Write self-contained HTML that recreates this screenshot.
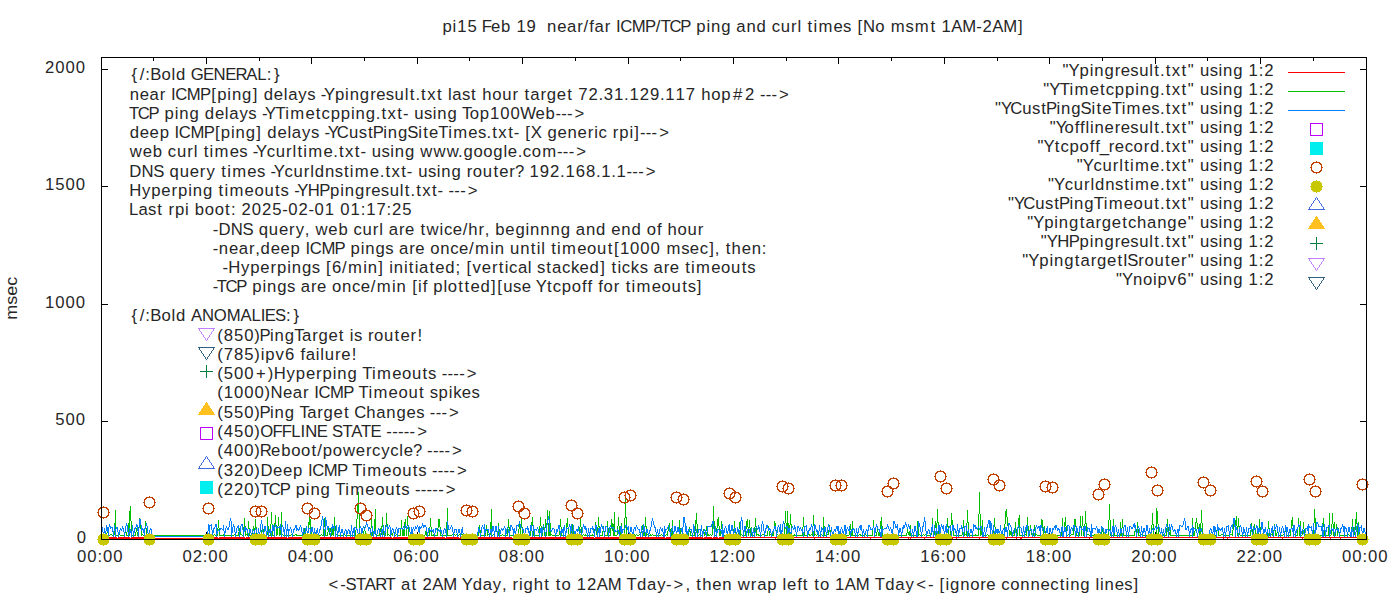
<!DOCTYPE html>
<html><head><meta charset="utf-8"><title>pi15 ping chart</title>
<style>
html,body{margin:0;padding:0;background:#fff;width:1400px;height:600px;overflow:hidden;}
svg{display:block;}
text{font-family:"Liberation Sans", sans-serif;font-size:16.7px;fill:#262626;white-space:pre;}
path,rect{shape-rendering:crispEdges;}
</style></head><body>
<svg width="1400" height="600" viewBox="0 0 1400 600">
<rect width="1400" height="600" fill="#fff"/>
<text transform="scale(1.0,1)" x="442.47 452.59 457.16 467.41 477.42 481.82 490.98 501.04 511.02 516.38 526.62 536.63 541.75 547.09 557.14 567.01 577.13 583.60 589.28 594.58 604.70 611.02 615.96 620.24 631.87 645.05 655.87 660.71 669.38 680.31 690.98 696.32 706.45 711.00 721.21 731.20 736.36 746.40 756.61 766.59 771.72 780.78 791.05 797.51 801.85 807.56 813.43 818.40 833.51 843.12 851.73 857.43 862.88 875.21 885.02 890.78 905.60 914.85 930.48 936.21 941.56 951.27 962.33 976.36 982.52 992.22 1003.29 1018.01" y="32.00">pi15 Feb 19  near/far ICMP/TCP ping and curl times [No msmt 1AM-2AM]</text>
<text transform="scale(1.0,1)" x="76.83" y="543.00">0</text>
<text transform="scale(1.0,1)" x="55.24 65.49 75.73" y="425.00">500</text>
<text transform="scale(1.0,1)" x="45.00 55.24 65.49 75.73" y="308.00">1000</text>
<text transform="scale(1.0,1)" x="45.00 55.24 65.49 75.73" y="190.00">1500</text>
<text transform="scale(1.0,1)" x="45.00 55.24 65.49 75.73" y="73.00">2000</text>
<text transform="scale(1.0,1)" x="76.98 87.22 97.38 102.88 113.13" y="562.00">00:00</text>
<text transform="scale(1.0,1)" x="182.39 192.64 202.80 208.30 218.54" y="562.00">02:00</text>
<text transform="scale(1.0,1)" x="287.81 298.05 308.21 313.72 323.96" y="562.00">04:00</text>
<text transform="scale(1.0,1)" x="393.23 403.47 413.63 419.13 429.38" y="562.00">06:00</text>
<text transform="scale(1.0,1)" x="498.64 508.89 519.05 524.55 534.79" y="562.00">08:00</text>
<text transform="scale(1.0,1)" x="604.06 614.30 624.46 629.97 640.21" y="562.00">10:00</text>
<text transform="scale(1.0,1)" x="709.48 719.72 729.88 735.38 745.63" y="562.00">12:00</text>
<text transform="scale(1.0,1)" x="814.89 825.14 835.30 840.80 851.04" y="562.00">14:00</text>
<text transform="scale(1.0,1)" x="920.31 930.55 940.71 946.22 956.46" y="562.00">16:00</text>
<text transform="scale(1.0,1)" x="1025.73 1035.97 1046.13 1051.63 1061.88" y="562.00">18:00</text>
<text transform="scale(1.0,1)" x="1131.14 1141.39 1151.55 1157.05 1167.29" y="562.00">20:00</text>
<text transform="scale(1.0,1)" x="1236.56 1246.80 1256.96 1262.47 1272.71" y="562.00">22:00</text>
<text transform="scale(1.0,1)" x="1341.98 1352.22 1362.38 1367.88 1378.13" y="562.00">00:00</text>
<text transform="scale(1.0,1)" x="328.53 340.27 345.50 355.98 364.70 375.34 385.61 395.88 401.04 411.46 417.18 422.53 432.24 443.30 457.45 461.67 472.63 482.66 492.83 502.00 507.13 512.54 519.00 523.56 533.77 544.34 550.06 555.78 561.54 571.35 576.71 586.95 596.65 607.72 621.86 626.56 637.04 647.07 657.24 666.02 673.57 685.42 690.55 696.26 702.20 712.25 722.30 732.28 737.70 750.86 757.22 767.27 777.26 782.52 786.92 797.17 802.74 808.46 814.17 819.94 829.75 835.10 844.81 855.87 870.02 874.71 885.20 895.22 905.40 916.20 927.94 933.87 939.56 945.41 949.97 960.18 970.20 980.30 986.34 996.18 1001.31 1010.18 1020.21 1030.41 1040.45 1050.29 1059.72 1065.59 1070.14 1080.34 1090.33 1095.59 1100.07 1104.62 1114.67 1124.28 1133.47" y="590.00">&lt;-START at 2AM Yday, right to 12AM Tday-&gt;, then wrap left to 1AM Tday&lt;- [ignore connecting lines]</text>
<text transform="translate(17.3,319.71) rotate(-90)" x="0" y="0" textLength="42.81" lengthAdjust="spacingAndGlyphs">msec</text>
<text transform="scale(1.0,1)" x="131.53 139.83 145.25 150.23 161.61 171.56 176.12 186.11 190.73 202.98 213.62 225.18 235.39 246.30 257.22 266.75 274.10" y="80.00">{/:Bold GENERAL:}</text>
<text transform="scale(1.0,1)" x="129.66 139.70 149.57 159.69 166.02 170.95 175.23 186.86 200.04 211.29 217.22 227.35 231.90 242.11 252.67 258.38 263.73 273.78 283.75 288.13 298.30 307.25 315.87 320.87 324.01 334.96 345.09 349.64 359.85 370.13 376.17 385.78 394.61 404.73 409.66 415.38 421.09 427.16 436.93 442.65 447.92 452.29 461.90 471.10 476.83 482.16 492.18 502.21 512.48 518.80 524.52 530.28 540.40 546.67 556.72 567.14 572.87 578.22 588.46 598.47 603.83 614.07 624.08 629.44 639.68 649.93 659.93 665.29 675.53 685.78 695.79 701.13 711.15 721.18 733.03 744.88 754.89 759.90 765.71 771.52 779.08" y="100.00">near ICMP[ping] delays -Ypingresult.txt last hour target 72.31.129.117 hop#2 ---&gt;</text>
<text transform="scale(1.0,1)" x="129.01 137.68 148.61 159.28 164.62 174.75 179.30 189.51 199.50 204.84 214.89 224.87 229.24 239.42 248.37 256.98 261.99 265.12 275.42 285.34 290.32 305.42 315.85 321.58 330.64 340.85 350.98 355.53 365.74 375.72 381.44 387.51 397.27 402.88 408.81 414.15 423.91 432.66 437.21 447.42 457.41 462.10 469.67 479.71 489.93 500.17 510.41 520.26 535.46 545.52 555.39 561.20 567.01 574.57" y="119.00">TCP ping delays -YTimetcpping.txt- using Top100Web---&gt;</text>
<text transform="scale(1.0,1)" x="129.67 139.72 149.61 159.67 169.66 174.59 178.87 190.51 203.69 214.93 220.87 231.00 235.55 245.75 256.32 262.03 267.37 277.42 287.40 291.77 301.95 310.90 319.51 324.52 327.65 336.85 348.95 358.71 367.91 372.68 383.14 387.69 397.90 407.18 418.24 423.17 428.95 438.36 448.28 453.25 468.36 477.97 486.58 492.29 498.37 508.13 513.74 519.67 525.37 530.78 542.10 547.45 557.50 567.55 577.60 587.72 594.19 598.53 607.37 612.78 619.33 629.46 634.37 639.96 645.77 651.59 659.14" y="138.00">deep ICMP[ping] delays -YCustPingSiteTimes.txt- [X generic rpi]---&gt;</text>
<text transform="scale(1.0,1)" x="129.74 142.67 152.73 162.72 167.85 176.90 187.17 193.64 197.97 203.68 209.55 214.53 229.63 239.24 247.85 252.86 255.99 266.73 275.78 286.06 292.52 297.45 303.31 308.29 323.39 333.22 338.94 345.01 354.78 360.38 366.31 371.65 381.41 390.16 394.72 404.92 414.91 420.33 433.50 446.66 458.05 463.40 473.42 483.27 493.31 503.44 507.84 517.67 522.80 531.68 542.13 557.05 562.87 568.68 576.23" y="157.00">web curl times -Ycurltime.txt- using www.google.com---&gt;</text>
<text transform="scale(1.0,1)" x="129.37 141.58 153.17 164.08 169.43 179.63 189.68 199.80 206.47 215.65 221.36 227.23 232.20 247.31 256.91 265.53 270.53 273.67 284.41 293.46 303.73 310.20 314.76 324.96 334.71 343.92 349.79 354.76 369.87 379.70 385.41 391.48 401.25 406.86 412.79 418.13 427.88 436.64 441.19 451.39 461.38 466.80 472.81 482.84 493.41 499.20 509.33 515.04 524.19 529.55 539.79 550.04 560.04 565.40 575.64 585.89 595.89 601.25 611.26 616.62 626.51 632.32 638.14 645.69" y="177.00">DNS query times -Ycurldnstime.txt- using router? 192.168.1.1---&gt;</text>
<text transform="scale(1.0,1)" x="129.22 141.88 151.28 161.33 171.46 178.01 188.14 192.69 202.89 212.88 218.59 224.46 229.44 244.54 254.41 264.44 275.01 280.51 289.13 294.13 297.27 307.78 319.13 330.03 340.16 344.71 354.91 365.19 371.23 380.84 389.67 399.79 404.72 410.44 416.16 422.23 432.00 437.60 443.53 448.54 454.35 460.16 467.72" y="196.00">Hyperping timeouts -YHPpingresult.txt- ---&gt;</text>
<text transform="scale(1.0,1)" x="129.04 138.45 148.05 157.26 162.98 168.40 174.94 185.07 189.41 194.76 204.78 214.63 225.04 230.91 236.18 241.54 251.78 262.02 272.27 282.16 288.32 298.57 308.46 314.62 324.87 334.88 340.23 350.47 360.63 366.14 376.38 386.54 392.05 402.29" y="215.00">Last rpi boot: 2025-02-01 01:17:25</text>
<text transform="scale(1.0,1)" x="212.72 218.58 230.80 242.38 253.30 258.64 268.85 278.89 289.02 295.69 304.86 309.98 315.41 328.33 338.39 348.38 353.51 362.56 372.84 379.30 383.63 388.80 398.92 404.95 414.79 420.50 426.53 439.53 443.88 452.78 462.76 468.25 478.52 484.84 489.97 495.31 505.36 515.42 525.55 530.10 540.30 550.50 560.70 570.69 575.85 585.89 596.10 606.09 611.27 621.32 631.53 641.51 646.68 656.90 662.16 667.50 677.52 687.54 697.82" y="235.00">-DNS query, web curl are twice/hr, beginnng and end of hour</text>
<text transform="scale(1.0,1)" x="212.72 218.87 228.91 238.79 248.91 255.22 260.58 270.63 280.52 290.58 300.57 305.50 309.78 321.42 334.60 345.27 350.61 360.74 365.30 375.50 385.26 393.88 399.04 409.16 415.20 425.03 430.19 440.22 450.21 459.11 469.09 475.00 490.19 494.74 504.72 510.06 520.25 530.82 536.69 541.17 545.50 551.22 557.08 562.06 577.16 587.04 597.06 607.64 613.93 619.88 630.12 640.36 650.61 660.62 666.38 681.19 689.87 699.72 709.13 714.83 719.96 725.67 731.61 741.66 751.71 761.84" y="254.00">-near,deep ICMP pings are once/min until timeout[1000 msec], then:</text>
<text transform="scale(1.0,1)" x="222.52 228.23 240.90 250.30 260.35 270.47 277.02 287.15 291.70 301.91 311.67 320.28 325.98 331.92 342.08 347.99 363.18 367.73 378.28 383.99 389.26 393.81 403.93 408.86 414.72 419.10 429.52 435.30 445.36 455.50 460.77 466.47 472.52 481.76 491.89 498.80 504.67 509.01 517.89 527.86 532.19 537.09 546.30 552.06 561.90 570.96 579.55 589.61 600.17 605.88 611.59 617.46 621.80 630.86 639.73 648.34 653.51 663.63 669.66 679.50 685.21 691.08 696.05 711.16 721.03 731.06 741.63 747.13" y="273.00">-Hyperpings [6/min] initiated; [vertical stacked] ticks are timeouts</text>
<text transform="scale(1.0,1)" x="212.72 216.75 225.41 236.34 247.01 252.36 262.49 267.04 277.24 287.01 295.62 300.78 310.90 316.94 326.78 331.94 341.97 351.95 360.85 370.84 376.75 391.93 396.48 406.46 412.16 418.01 422.76 428.02 433.36 443.49 447.87 458.27 464.59 470.38 480.43 491.00 497.28 503.21 512.96 521.64 531.47 535.70 547.02 552.76 561.82 571.84 582.07 587.49 592.75 598.28 603.58 613.68 620.01 625.72 631.58 636.56 651.66 661.54 671.57 682.14 687.64 696.83" y="292.00">-TCP pings are once/min [if plotted][use Ytcpoff for timeouts]</text>
<text transform="scale(1.0,1)" x="131.53 139.83 145.25 150.23 161.61 171.56 176.12 186.11 190.92 201.99 213.87 226.69 240.52 251.44 260.63 264.83 275.02 286.09 293.44" y="321.00">{/:Bold ANOMALIES:}</text>
<text transform="scale(1.0,1)" x="217.36 223.76 234.00 244.24 254.37 259.58 270.05 274.60 284.80 294.36 302.01 312.13 318.39 328.44 338.87 344.59 349.86 353.97 362.58 368.00 374.01 384.04 394.61 400.40 410.53 417.51" y="341.00">(850)PingTarget is router!</text>
<text transform="scale(1.0,1)" x="217.36 223.76 234.00 244.24 254.37 260.68 265.24 275.58 284.98 294.99 300.53 305.83 315.80 320.27 324.83 335.10 341.14 351.64" y="360.00">(785)ipv6 failure!</text>
<text transform="scale(1.0,1)" x="217.36 223.76 234.00 244.24 255.88 267.85 273.80 286.46 295.86 305.91 316.04 322.59 332.72 337.27 347.47 357.46 362.15 372.07 377.05 392.15 402.03 412.05 422.62 428.12 436.74 441.74 447.56 453.37 459.18 466.74" y="379.00">(500+)Hyperping Timeouts ----&gt;</text>
<text transform="scale(1.0,1)" x="217.36 223.76 234.00 244.24 254.49 264.62 270.53 282.88 292.76 302.88 309.20 314.13 318.41 330.04 343.23 353.89 358.59 368.51 373.48 388.59 398.46 408.49 419.06 424.78 429.68 438.52 448.65 453.21 461.80 471.41" y="398.00">(1000)Near ICMP Timeout spikes</text>
<text transform="scale(1.0,1)" x="217.36 223.76 234.00 244.24 254.37 259.58 270.05 274.60 284.80 294.79 299.48 307.13 317.25 323.51 333.57 343.99 349.72 354.18 366.29 376.31 386.35 396.55 406.61 416.21 424.83 429.83 435.65 441.46 449.01" y="418.00">(550)Ping Target Changes ---&gt;</text>
<text transform="scale(1.0,1)" x="217.36 223.76 234.00 244.24 254.37 260.13 272.49 281.74 291.31 300.49 305.17 316.73 327.63 332.05 342.53 351.25 360.90 370.43 381.33 386.33 392.14 397.96 403.77 409.58 417.14" y="437.00">(450)OFFLINE STATE -----&gt;</text>
<text transform="scale(1.0,1)" x="217.36 223.76 234.00 244.24 254.37 259.86 271.07 281.13 291.15 301.00 311.41 317.28 322.78 332.80 342.92 355.84 365.97 371.95 381.14 390.32 399.30 403.70 412.92 422.08 427.08 432.90 438.71 444.52 452.08" y="456.00">(400)Reboot/powercycle? ----&gt;</text>
<text transform="scale(1.0,1)" x="217.36 223.76 234.00 244.24 254.37 260.46 273.00 282.90 292.96 302.94 307.88 312.16 323.79 336.97 347.64 352.34 362.25 367.23 382.33 392.21 402.23 412.80 418.30 426.92 431.92 437.74 443.55 449.36 456.92" y="475.50">(320)Deep ICMP Timeouts ----&gt;</text>
<text transform="scale(1.0,1)" x="217.36 223.76 234.00 244.24 254.37 260.11 268.78 279.71 290.37 295.72 305.85 310.40 320.61 330.59 335.29 345.21 350.18 365.29 375.16 385.19 395.76 401.26 409.87 414.88 420.69 426.50 432.32 438.13 445.68" y="495.00">(220)TCP ping Timeouts -----&gt;</text>
<text transform="scale(1.0,1)" x="1062.56 1068.57 1079.52 1089.65 1094.21 1104.41 1114.69 1120.73 1130.34 1139.17 1149.29 1154.22 1159.94 1165.66 1171.73 1181.49 1187.71 1194.62 1199.96 1209.71 1218.47 1223.02 1233.22 1243.21 1248.57 1258.73 1264.23" y="76.00">&quot;Ypingresult.txt&quot; using 1:2</text>
<text transform="scale(1.0,1)" x="1043.33 1049.34 1059.64 1069.56 1074.53 1089.64 1100.06 1105.80 1114.86 1125.07 1135.20 1139.75 1149.96 1159.94 1165.66 1171.73 1181.49 1187.71 1194.62 1199.96 1209.71 1218.47 1223.02 1233.22 1243.21 1248.57 1258.73 1264.23" y="95.00">&quot;YTimetcpping.txt&quot; using 1:2</text>
<text transform="scale(1.0,1)" x="995.00 1001.01 1010.21 1022.31 1032.07 1041.27 1046.04 1056.50 1061.06 1071.26 1080.55 1091.60 1096.53 1102.32 1111.72 1121.64 1126.62 1141.72 1151.33 1159.94 1165.66 1171.73 1181.49 1187.71 1194.62 1199.96 1209.71 1218.47 1223.02 1233.22 1243.21 1248.57 1258.73 1264.23" y="114.00">&quot;YCustPingSiteTimes.txt&quot; using 1:2</text>
<text transform="scale(1.0,1)" x="1049.82 1055.83 1064.46 1074.69 1080.11 1085.49 1089.97 1094.52 1104.56 1114.69 1120.73 1130.34 1139.17 1149.29 1154.22 1159.94 1165.66 1171.73 1181.49 1187.71 1194.62 1199.96 1209.71 1218.47 1223.02 1233.22 1243.21 1248.57 1258.73 1264.23" y="133.00">&quot;Yofflineresult.txt&quot; using 1:2</text>
<text transform="scale(1.0,1)" x="1037.44 1043.45 1054.77 1060.50 1069.56 1079.59 1089.82 1095.24 1099.67 1108.83 1114.87 1124.71 1133.59 1143.69 1149.96 1159.94 1165.66 1171.73 1181.49 1187.71 1194.62 1199.96 1209.71 1218.47 1223.02 1233.22 1243.21 1248.57 1258.73 1264.23" y="152.00">&quot;Ytcpoff_record.txt&quot; using 1:2</text>
<text transform="scale(1.0,1)" x="1076.70 1082.71 1093.45 1102.50 1112.77 1119.24 1124.16 1130.03 1135.00 1150.11 1159.94 1165.66 1171.73 1181.49 1187.71 1194.62 1199.96 1209.71 1218.47 1223.02 1233.22 1243.21 1248.57 1258.73 1264.23" y="171.00">&quot;Ycurltime.txt&quot; using 1:2</text>
<text transform="scale(1.0,1)" x="1047.90 1053.91 1064.65 1073.70 1083.98 1090.44 1095.00 1105.20 1114.96 1124.16 1130.03 1135.00 1150.11 1159.94 1165.66 1171.73 1181.49 1187.71 1194.62 1199.96 1209.71 1218.47 1223.02 1233.22 1243.21 1248.57 1258.73 1264.23" y="190.00">&quot;Ycurldnstime.txt&quot; using 1:2</text>
<text transform="scale(1.0,1)" x="1007.93 1013.94 1023.14 1035.24 1045.00 1054.20 1058.97 1069.43 1073.99 1084.19 1093.75 1103.67 1108.64 1123.75 1133.62 1143.65 1154.22 1159.94 1165.66 1171.73 1181.49 1187.71 1194.62 1199.96 1209.71 1218.47 1223.02 1233.22 1243.21 1248.57 1258.73 1264.23" y="209.00">&quot;YCustPingTimeout.txt&quot; using 1:2</text>
<text transform="scale(1.0,1)" x="1027.23 1033.24 1044.19 1054.32 1058.87 1069.08 1079.65 1085.42 1095.54 1101.80 1111.85 1122.28 1128.01 1137.07 1147.08 1157.13 1167.33 1177.38 1187.71 1194.62 1199.96 1209.71 1218.47 1223.02 1233.22 1243.21 1248.57 1258.73 1264.23" y="228.00">&quot;Ypingtargetchange&quot; using 1:2</text>
<text transform="scale(1.0,1)" x="1040.75 1046.76 1057.27 1068.63 1079.52 1089.65 1094.21 1104.41 1114.69 1120.73 1130.34 1139.17 1149.29 1154.22 1159.94 1165.66 1171.73 1181.49 1187.71 1194.62 1199.96 1209.71 1218.47 1223.02 1233.22 1243.21 1248.57 1258.73 1264.23" y="247.00">&quot;YHPpingresult.txt&quot; using 1:2</text>
<text transform="scale(1.0,1)" x="1022.34 1028.35 1039.30 1049.43 1053.99 1064.19 1074.77 1080.53 1090.65 1096.92 1106.97 1117.39 1122.93 1127.16 1138.37 1144.38 1154.41 1164.98 1170.77 1180.90 1187.71 1194.62 1199.96 1209.71 1218.47 1223.02 1233.22 1243.21 1248.57 1258.73 1264.23" y="266.00">&quot;YpingtargetISrouter&quot; using 1:2</text>
<text transform="scale(1.0,1)" x="1115.98 1121.99 1132.93 1142.95 1152.91 1157.47 1167.80 1177.21 1187.71 1194.62 1199.96 1209.71 1218.47 1223.02 1233.22 1243.21 1248.57 1258.73 1264.23" y="285.00">&quot;Ynoipv6&quot; using 1:2</text>
<rect x="1288" y="72" width="57" height="1" fill="#ff0000"/>
<rect x="1288" y="91" width="57" height="1" fill="#00c000"/>
<rect x="1288" y="110" width="57" height="1" fill="#0080ff"/>
<path d="M1310 123h1v13h-1zM1311 123h1v1h-1zM1311 135h1v1h-1zM1312 123h1v1h-1zM1312 135h1v1h-1zM1313 123h1v1h-1zM1313 135h1v1h-1zM1314 123h1v1h-1zM1314 135h1v1h-1zM1315 123h1v1h-1zM1315 135h1v1h-1zM1316 123h1v1h-1zM1316 135h1v1h-1zM1317 123h1v1h-1zM1317 135h1v1h-1zM1318 123h1v1h-1zM1318 135h1v1h-1zM1319 123h1v1h-1zM1319 135h1v1h-1zM1320 123h1v1h-1zM1320 135h1v1h-1zM1321 123h1v1h-1zM1321 135h1v1h-1zM1322 123h1v13h-1z" fill="#c000ff"/>
<path d="M1310 142h1v13h-1zM1311 142h1v13h-1zM1312 142h1v13h-1zM1313 142h1v13h-1zM1314 142h1v13h-1zM1315 142h1v13h-1zM1316 142h1v13h-1zM1317 142h1v13h-1zM1318 142h1v13h-1zM1319 142h1v13h-1zM1320 142h1v13h-1zM1321 142h1v13h-1zM1322 142h1v13h-1z" fill="#00eeee"/>
<path d="M1310 167h1v1h-1zM1311 164h1v7h-1zM1312 163h1v2h-1zM1312 170h1v2h-1zM1313 162h1v2h-1zM1313 171h1v2h-1zM1314 162h1v1h-1zM1314 172h1v1h-1zM1315 162h1v1h-1zM1315 172h1v1h-1zM1316 161h1v2h-1zM1316 172h1v2h-1zM1317 162h1v1h-1zM1317 172h1v1h-1zM1318 162h1v1h-1zM1318 172h1v1h-1zM1319 162h1v2h-1zM1319 171h1v2h-1zM1320 163h1v2h-1zM1320 170h1v2h-1zM1321 164h1v7h-1zM1322 167h1v1h-1z" fill="#c04000"/>
<path d="M1310 186h1v1h-1zM1311 183h1v7h-1zM1312 182h1v9h-1zM1313 181h1v11h-1zM1314 181h1v11h-1zM1315 181h1v11h-1zM1316 180h1v13h-1zM1317 181h1v11h-1zM1318 181h1v11h-1zM1319 181h1v11h-1zM1320 182h1v9h-1zM1321 183h1v7h-1zM1322 186h1v1h-1z" fill="#c8c800"/>
<path d="M1308 209h1v1h-1zM1309 207h1v3h-1zM1310 206h1v1h-1zM1310 209h1v1h-1zM1311 204h1v2h-1zM1311 209h1v1h-1zM1312 203h1v1h-1zM1312 209h1v1h-1zM1313 201h1v2h-1zM1313 209h1v1h-1zM1314 200h1v1h-1zM1314 209h1v1h-1zM1315 198h1v2h-1zM1315 209h1v1h-1zM1316 197h1v1h-1zM1316 209h1v1h-1zM1317 198h1v2h-1zM1317 209h1v1h-1zM1318 200h1v1h-1zM1318 209h1v1h-1zM1319 201h1v2h-1zM1319 209h1v1h-1zM1320 203h1v1h-1zM1320 209h1v1h-1zM1321 204h1v2h-1zM1321 209h1v1h-1zM1322 206h1v1h-1zM1322 209h1v1h-1zM1323 207h1v3h-1zM1324 209h1v1h-1z" fill="#4169e1"/>
<path d="M1308 228h1v1h-1zM1309 226h1v3h-1zM1310 225h1v4h-1zM1311 223h1v6h-1zM1312 222h1v7h-1zM1313 220h1v9h-1zM1314 219h1v10h-1zM1315 217h1v12h-1zM1316 216h1v13h-1zM1317 217h1v12h-1zM1318 219h1v10h-1zM1319 220h1v9h-1zM1320 222h1v7h-1zM1321 223h1v6h-1zM1322 225h1v4h-1zM1323 226h1v3h-1zM1324 228h1v1h-1z" fill="#ffc020"/>
<path d="M1310 243h1v1h-1zM1311 243h1v1h-1zM1312 243h1v1h-1zM1313 243h1v1h-1zM1314 243h1v1h-1zM1315 243h1v1h-1zM1316 237h1v13h-1zM1317 243h1v1h-1zM1318 243h1v1h-1zM1319 243h1v1h-1zM1320 243h1v1h-1zM1321 243h1v1h-1zM1322 243h1v1h-1z" fill="#008040"/>
<path d="M1308 258h1v1h-1zM1309 258h1v3h-1zM1310 258h1v1h-1zM1310 261h1v1h-1zM1311 258h1v1h-1zM1311 262h1v2h-1zM1312 258h1v1h-1zM1312 264h1v1h-1zM1313 258h1v1h-1zM1313 265h1v2h-1zM1314 258h1v1h-1zM1314 267h1v1h-1zM1315 258h1v1h-1zM1315 268h1v2h-1zM1316 258h1v1h-1zM1316 270h1v1h-1zM1317 258h1v1h-1zM1317 268h1v2h-1zM1318 258h1v1h-1zM1318 267h1v1h-1zM1319 258h1v1h-1zM1319 265h1v2h-1zM1320 258h1v1h-1zM1320 264h1v1h-1zM1321 258h1v1h-1zM1321 262h1v2h-1zM1322 258h1v1h-1zM1322 261h1v1h-1zM1323 258h1v3h-1zM1324 258h1v1h-1z" fill="#c080ff"/>
<path d="M1308 277h1v1h-1zM1309 277h1v3h-1zM1310 277h1v1h-1zM1310 280h1v1h-1zM1311 277h1v1h-1zM1311 281h1v2h-1zM1312 277h1v1h-1zM1312 283h1v1h-1zM1313 277h1v1h-1zM1313 284h1v2h-1zM1314 277h1v1h-1zM1314 286h1v1h-1zM1315 277h1v1h-1zM1315 287h1v2h-1zM1316 277h1v1h-1zM1316 289h1v1h-1zM1317 277h1v1h-1zM1317 287h1v2h-1zM1318 277h1v1h-1zM1318 286h1v1h-1zM1319 277h1v1h-1zM1319 284h1v2h-1zM1320 277h1v1h-1zM1320 283h1v1h-1zM1321 277h1v1h-1zM1321 281h1v2h-1zM1322 277h1v1h-1zM1322 280h1v1h-1zM1323 277h1v3h-1zM1324 277h1v1h-1z" fill="#306080"/>
<path d="M198 328h1v1h-1zM199 328h1v3h-1zM200 328h1v1h-1zM200 331h1v1h-1zM201 328h1v1h-1zM201 332h1v2h-1zM202 328h1v1h-1zM202 334h1v1h-1zM203 328h1v1h-1zM203 335h1v2h-1zM204 328h1v1h-1zM204 337h1v1h-1zM205 328h1v1h-1zM205 338h1v2h-1zM206 328h1v1h-1zM206 340h1v1h-1zM207 328h1v1h-1zM207 338h1v2h-1zM208 328h1v1h-1zM208 337h1v1h-1zM209 328h1v1h-1zM209 335h1v2h-1zM210 328h1v1h-1zM210 334h1v1h-1zM211 328h1v1h-1zM211 332h1v2h-1zM212 328h1v1h-1zM212 331h1v1h-1zM213 328h1v3h-1zM214 328h1v1h-1z" fill="#c080ff"/>
<path d="M198 347h1v1h-1zM199 347h1v3h-1zM200 347h1v1h-1zM200 350h1v1h-1zM201 347h1v1h-1zM201 351h1v2h-1zM202 347h1v1h-1zM202 353h1v1h-1zM203 347h1v1h-1zM203 354h1v2h-1zM204 347h1v1h-1zM204 356h1v1h-1zM205 347h1v1h-1zM205 357h1v2h-1zM206 347h1v1h-1zM206 359h1v1h-1zM207 347h1v1h-1zM207 357h1v2h-1zM208 347h1v1h-1zM208 356h1v1h-1zM209 347h1v1h-1zM209 354h1v2h-1zM210 347h1v1h-1zM210 353h1v1h-1zM211 347h1v1h-1zM211 351h1v2h-1zM212 347h1v1h-1zM212 350h1v1h-1zM213 347h1v3h-1zM214 347h1v1h-1z" fill="#306080"/>
<path d="M200 371h1v1h-1zM201 371h1v1h-1zM202 371h1v1h-1zM203 371h1v1h-1zM204 371h1v1h-1zM205 371h1v1h-1zM206 365h1v13h-1zM207 371h1v1h-1zM208 371h1v1h-1zM209 371h1v1h-1zM210 371h1v1h-1zM211 371h1v1h-1zM212 371h1v1h-1z" fill="#008040"/>
<path d="M198 414h1v1h-1zM199 412h1v3h-1zM200 411h1v4h-1zM201 409h1v6h-1zM202 408h1v7h-1zM203 406h1v9h-1zM204 405h1v10h-1zM205 403h1v12h-1zM206 402h1v13h-1zM207 403h1v12h-1zM208 405h1v10h-1zM209 406h1v9h-1zM210 408h1v7h-1zM211 409h1v6h-1zM212 411h1v4h-1zM213 412h1v3h-1zM214 414h1v1h-1z" fill="#ffc020"/>
<path d="M200 427h1v13h-1zM201 427h1v1h-1zM201 439h1v1h-1zM202 427h1v1h-1zM202 439h1v1h-1zM203 427h1v1h-1zM203 439h1v1h-1zM204 427h1v1h-1zM204 439h1v1h-1zM205 427h1v1h-1zM205 439h1v1h-1zM206 427h1v1h-1zM206 439h1v1h-1zM207 427h1v1h-1zM207 439h1v1h-1zM208 427h1v1h-1zM208 439h1v1h-1zM209 427h1v1h-1zM209 439h1v1h-1zM210 427h1v1h-1zM210 439h1v1h-1zM211 427h1v1h-1zM211 439h1v1h-1zM212 427h1v13h-1z" fill="#c000ff"/>
<path d="M198 468h1v1h-1zM199 466h1v3h-1zM200 465h1v1h-1zM200 468h1v1h-1zM201 463h1v2h-1zM201 468h1v1h-1zM202 462h1v1h-1zM202 468h1v1h-1zM203 460h1v2h-1zM203 468h1v1h-1zM204 459h1v1h-1zM204 468h1v1h-1zM205 457h1v2h-1zM205 468h1v1h-1zM206 456h1v1h-1zM206 468h1v1h-1zM207 457h1v2h-1zM207 468h1v1h-1zM208 459h1v1h-1zM208 468h1v1h-1zM209 460h1v2h-1zM209 468h1v1h-1zM210 462h1v1h-1zM210 468h1v1h-1zM211 463h1v2h-1zM211 468h1v1h-1zM212 465h1v1h-1zM212 468h1v1h-1zM213 466h1v3h-1zM214 468h1v1h-1z" fill="#4169e1"/>
<path d="M200 481h1v13h-1zM201 481h1v13h-1zM202 481h1v13h-1zM203 481h1v13h-1zM204 481h1v13h-1zM205 481h1v13h-1zM206 481h1v13h-1zM207 481h1v13h-1zM208 481h1v13h-1zM209 481h1v13h-1zM210 481h1v13h-1zM211 481h1v13h-1zM212 481h1v13h-1z" fill="#00eeee"/>
<path d="M101 532h1v7h-1zM153 535h1v4h-1zM206 532h1v7h-1zM259 535h1v4h-1zM311 532h1v7h-1zM364 535h1v4h-1zM417 532h1v7h-1zM469 535h1v4h-1zM522 532h1v7h-1zM575 535h1v4h-1zM628 532h1v7h-1zM680 535h1v4h-1zM733 532h1v7h-1zM786 535h1v4h-1zM838 532h1v7h-1zM891 535h1v4h-1zM944 532h1v7h-1zM997 535h1v4h-1zM1049 532h1v7h-1zM1102 535h1v4h-1zM1155 532h1v7h-1zM1207 535h1v4h-1zM1260 532h1v7h-1zM1313 535h1v4h-1zM1366 532h1v7h-1z" fill="#000"/>
<path d="M101 537h1v2h-1zM102 537h1v2h-1zM103 537h1v2h-1zM104 537h1v2h-1zM105 537h1v2h-1zM106 537h1v2h-1zM107 537h1v2h-1zM108 537h1v2h-1zM109 537h1v2h-1zM110 537h1v2h-1zM111 537h1v2h-1zM112 537h1v2h-1zM113 537h1v2h-1zM114 537h1v2h-1zM115 537h1v2h-1zM116 537h1v2h-1zM117 538h1v1h-1zM118 537h1v2h-1zM119 537h1v2h-1zM120 537h1v2h-1zM121 537h1v2h-1zM122 537h1v2h-1zM123 537h1v2h-1zM124 537h1v2h-1zM125 537h1v2h-1zM126 537h1v2h-1zM127 537h1v2h-1zM128 537h1v2h-1zM129 537h1v2h-1zM130 538h1v1h-1zM131 537h1v2h-1zM132 537h1v2h-1zM133 537h1v2h-1zM134 537h1v2h-1zM135 537h1v2h-1zM136 537h1v2h-1zM137 537h1v2h-1zM138 537h1v2h-1zM139 537h1v2h-1zM140 537h1v2h-1zM141 537h1v2h-1zM142 537h1v2h-1zM143 537h1v2h-1zM144 537h1v2h-1zM145 537h1v2h-1zM146 537h1v2h-1zM147 537h1v2h-1zM148 537h1v2h-1zM149 538h1v1h-1zM150 537h1v2h-1zM151 538h1v1h-1zM152 538h1v1h-1zM153 538h1v1h-1zM154 538h1v1h-1zM155 538h1v1h-1zM156 538h1v1h-1zM157 538h1v1h-1zM158 538h1v1h-1zM159 538h1v1h-1zM160 538h1v1h-1zM161 538h1v1h-1zM162 538h1v1h-1zM163 538h1v1h-1zM164 538h1v1h-1zM165 538h1v1h-1zM166 538h1v1h-1zM167 538h1v1h-1zM168 538h1v1h-1zM169 538h1v1h-1zM170 538h1v1h-1zM171 538h1v1h-1zM172 538h1v1h-1zM173 538h1v1h-1zM174 538h1v1h-1zM175 538h1v1h-1zM176 538h1v1h-1zM177 538h1v1h-1zM178 538h1v1h-1zM179 538h1v1h-1zM180 538h1v1h-1zM181 538h1v1h-1zM182 538h1v1h-1zM183 538h1v1h-1zM184 538h1v1h-1zM185 538h1v1h-1zM186 538h1v1h-1zM187 538h1v1h-1zM188 538h1v1h-1zM189 538h1v1h-1zM190 538h1v1h-1zM191 538h1v1h-1zM192 538h1v1h-1zM193 538h1v1h-1zM194 538h1v1h-1zM195 538h1v1h-1zM196 538h1v1h-1zM197 538h1v1h-1zM198 538h1v1h-1zM199 538h1v1h-1zM200 538h1v1h-1zM201 538h1v1h-1zM202 538h1v1h-1zM203 538h1v1h-1zM204 538h1v1h-1zM205 538h1v1h-1zM206 538h1v1h-1zM207 537h1v2h-1zM208 537h1v2h-1zM209 537h1v2h-1zM210 537h1v2h-1zM211 537h1v2h-1zM212 537h1v2h-1zM213 537h1v2h-1zM214 537h1v2h-1zM215 537h1v2h-1zM216 537h1v2h-1zM217 537h1v2h-1zM218 538h1v1h-1zM219 537h1v2h-1zM220 537h1v2h-1zM221 537h1v2h-1zM222 537h1v2h-1zM223 537h1v2h-1zM224 537h1v2h-1zM225 537h1v2h-1zM226 537h1v2h-1zM227 537h1v2h-1zM228 537h1v2h-1zM229 537h1v2h-1zM230 537h1v2h-1zM231 537h1v2h-1zM232 537h1v2h-1zM233 537h1v2h-1zM234 537h1v2h-1zM235 537h1v2h-1zM236 537h1v2h-1zM237 537h1v2h-1zM238 537h1v2h-1zM239 537h1v2h-1zM240 537h1v2h-1zM241 537h1v2h-1zM242 537h1v2h-1zM243 537h1v2h-1zM244 537h1v2h-1zM245 538h1v1h-1zM246 537h1v2h-1zM247 537h1v2h-1zM248 537h1v2h-1zM249 537h1v2h-1zM250 537h1v2h-1zM251 537h1v2h-1zM252 537h1v2h-1zM253 537h1v2h-1zM254 537h1v2h-1zM255 537h1v2h-1zM256 538h1v1h-1zM257 537h1v2h-1zM258 537h1v2h-1zM259 537h1v2h-1zM260 538h1v1h-1zM261 537h1v2h-1zM262 537h1v2h-1zM263 537h1v2h-1zM264 537h1v2h-1zM265 537h1v2h-1zM266 537h1v2h-1zM267 537h1v2h-1zM268 537h1v2h-1zM269 537h1v2h-1zM270 537h1v2h-1zM271 537h1v2h-1zM272 537h1v2h-1zM273 537h1v2h-1zM274 537h1v2h-1zM275 537h1v2h-1zM276 537h1v2h-1zM277 537h1v2h-1zM278 537h1v2h-1zM279 537h1v2h-1zM280 537h1v2h-1zM281 537h1v2h-1zM282 537h1v2h-1zM283 537h1v2h-1zM284 537h1v2h-1zM285 537h1v2h-1zM286 537h1v2h-1zM287 538h1v1h-1zM288 537h1v2h-1zM289 537h1v2h-1zM290 537h1v2h-1zM291 537h1v2h-1zM292 537h1v2h-1zM293 537h1v2h-1zM294 537h1v2h-1zM295 537h1v2h-1zM296 537h1v2h-1zM297 537h1v2h-1zM298 537h1v2h-1zM299 537h1v2h-1zM300 537h1v2h-1zM301 537h1v2h-1zM302 537h1v2h-1zM303 538h1v1h-1zM304 537h1v2h-1zM305 537h1v2h-1zM306 537h1v2h-1zM307 537h1v2h-1zM308 537h1v2h-1zM309 537h1v2h-1zM310 537h1v2h-1zM311 537h1v2h-1zM312 537h1v2h-1zM313 537h1v2h-1zM314 538h1v1h-1zM315 537h1v2h-1zM316 538h1v1h-1zM317 538h1v1h-1zM318 537h1v2h-1zM319 537h1v2h-1zM320 537h1v2h-1zM321 537h1v2h-1zM322 537h1v2h-1zM323 537h1v2h-1zM324 537h1v2h-1zM325 537h1v2h-1zM326 537h1v2h-1zM327 537h1v2h-1zM328 537h1v2h-1zM329 537h1v2h-1zM330 537h1v2h-1zM331 537h1v2h-1zM332 537h1v2h-1zM333 537h1v2h-1zM334 537h1v2h-1zM335 537h1v2h-1zM336 537h1v2h-1zM337 537h1v2h-1zM338 537h1v2h-1zM339 537h1v2h-1zM340 537h1v2h-1zM341 537h1v2h-1zM342 537h1v2h-1zM343 537h1v2h-1zM344 537h1v2h-1zM345 537h1v2h-1zM346 537h1v2h-1zM347 537h1v2h-1zM348 537h1v2h-1zM349 537h1v2h-1zM350 537h1v2h-1zM351 537h1v2h-1zM352 537h1v2h-1zM353 537h1v2h-1zM354 537h1v2h-1zM355 537h1v2h-1zM356 538h1v1h-1zM357 537h1v2h-1zM358 537h1v2h-1zM359 537h1v2h-1zM360 538h1v1h-1zM361 537h1v2h-1zM362 537h1v2h-1zM363 537h1v2h-1zM364 537h1v2h-1zM365 537h1v2h-1zM366 537h1v2h-1zM367 537h1v2h-1zM368 537h1v2h-1zM369 538h1v1h-1zM370 537h1v2h-1zM371 537h1v2h-1zM372 537h1v2h-1zM373 537h1v2h-1zM374 537h1v2h-1zM375 537h1v2h-1zM376 537h1v2h-1zM377 537h1v2h-1zM378 537h1v2h-1zM379 537h1v2h-1zM380 537h1v2h-1zM381 537h1v2h-1zM382 537h1v2h-1zM383 537h1v2h-1zM384 537h1v2h-1zM385 537h1v2h-1zM386 537h1v2h-1zM387 537h1v2h-1zM388 537h1v2h-1zM389 537h1v2h-1zM390 537h1v2h-1zM391 537h1v2h-1zM392 538h1v1h-1zM393 537h1v2h-1zM394 537h1v2h-1zM395 537h1v2h-1zM396 537h1v2h-1zM397 537h1v2h-1zM398 537h1v2h-1zM399 537h1v2h-1zM400 537h1v2h-1zM401 537h1v2h-1zM402 537h1v2h-1zM403 537h1v2h-1zM404 537h1v2h-1zM405 537h1v2h-1zM406 537h1v2h-1zM407 537h1v2h-1zM408 537h1v2h-1zM409 537h1v2h-1zM410 537h1v2h-1zM411 537h1v2h-1zM412 537h1v2h-1zM413 537h1v2h-1zM414 538h1v1h-1zM415 537h1v2h-1zM416 537h1v2h-1zM417 537h1v2h-1zM418 537h1v2h-1zM419 537h1v2h-1zM420 537h1v2h-1zM421 537h1v2h-1zM422 537h1v2h-1zM423 537h1v2h-1zM424 538h1v1h-1zM425 537h1v2h-1zM426 537h1v2h-1zM427 537h1v2h-1zM428 537h1v2h-1zM429 537h1v2h-1zM430 537h1v2h-1zM431 537h1v2h-1zM432 537h1v2h-1zM433 537h1v2h-1zM434 537h1v2h-1zM435 537h1v2h-1zM436 537h1v2h-1zM437 537h1v2h-1zM438 537h1v2h-1zM439 537h1v2h-1zM440 537h1v2h-1zM441 537h1v2h-1zM442 537h1v2h-1zM443 537h1v2h-1zM444 537h1v2h-1zM445 538h1v1h-1zM446 537h1v2h-1zM447 537h1v2h-1zM448 537h1v2h-1zM449 537h1v2h-1zM450 537h1v2h-1zM451 537h1v2h-1zM452 537h1v2h-1zM453 537h1v2h-1zM454 537h1v2h-1zM455 537h1v2h-1zM456 537h1v2h-1zM457 537h1v2h-1zM458 537h1v2h-1zM459 538h1v1h-1zM460 537h1v2h-1zM461 537h1v2h-1zM462 537h1v2h-1zM463 537h1v2h-1zM464 537h1v2h-1zM465 537h1v2h-1zM466 537h1v2h-1zM467 538h1v1h-1zM468 537h1v2h-1zM469 537h1v2h-1zM470 537h1v2h-1zM471 537h1v2h-1zM472 537h1v2h-1zM473 538h1v1h-1zM474 537h1v2h-1zM475 537h1v2h-1zM476 537h1v2h-1zM477 537h1v2h-1zM478 537h1v2h-1zM479 537h1v2h-1zM480 537h1v2h-1zM481 537h1v2h-1zM482 537h1v2h-1zM483 537h1v2h-1zM484 537h1v2h-1zM485 537h1v2h-1zM486 537h1v2h-1zM487 537h1v2h-1zM488 537h1v2h-1zM489 537h1v2h-1zM490 537h1v2h-1zM491 537h1v2h-1zM492 537h1v2h-1zM493 537h1v2h-1zM494 537h1v2h-1zM495 537h1v2h-1zM496 537h1v2h-1zM497 537h1v2h-1zM498 537h1v2h-1zM499 537h1v2h-1zM500 537h1v2h-1zM501 537h1v2h-1zM502 537h1v2h-1zM503 537h1v2h-1zM504 537h1v2h-1zM505 537h1v2h-1zM506 537h1v2h-1zM507 537h1v2h-1zM508 537h1v2h-1zM509 537h1v2h-1zM510 537h1v2h-1zM511 537h1v2h-1zM512 538h1v1h-1zM513 537h1v2h-1zM514 537h1v2h-1zM515 537h1v2h-1zM516 537h1v2h-1zM517 537h1v2h-1zM518 537h1v2h-1zM519 537h1v2h-1zM520 537h1v2h-1zM521 537h1v2h-1zM522 537h1v2h-1zM523 537h1v2h-1zM524 537h1v2h-1zM525 537h1v2h-1zM526 537h1v2h-1zM527 537h1v2h-1zM528 537h1v2h-1zM529 537h1v2h-1zM530 537h1v2h-1zM531 537h1v2h-1zM532 537h1v2h-1zM533 537h1v2h-1zM534 537h1v2h-1zM535 537h1v2h-1zM536 537h1v2h-1zM537 537h1v2h-1zM538 537h1v2h-1zM539 537h1v2h-1zM540 537h1v2h-1zM541 537h1v2h-1zM542 537h1v2h-1zM543 537h1v2h-1zM544 537h1v2h-1zM545 537h1v2h-1zM546 537h1v2h-1zM547 537h1v2h-1zM548 537h1v2h-1zM549 537h1v2h-1zM550 537h1v2h-1zM551 537h1v2h-1zM552 537h1v2h-1zM553 537h1v2h-1zM554 537h1v2h-1zM555 537h1v2h-1zM556 537h1v2h-1zM557 537h1v2h-1zM558 537h1v2h-1zM559 537h1v2h-1zM560 537h1v2h-1zM561 537h1v2h-1zM562 537h1v2h-1zM563 537h1v2h-1zM564 537h1v2h-1zM565 537h1v2h-1zM566 537h1v2h-1zM567 537h1v2h-1zM568 537h1v2h-1zM569 537h1v2h-1zM570 537h1v2h-1zM571 537h1v2h-1zM572 537h1v2h-1zM573 537h1v2h-1zM574 537h1v2h-1zM575 537h1v2h-1zM576 537h1v2h-1zM577 538h1v1h-1zM578 537h1v2h-1zM579 537h1v2h-1zM580 537h1v2h-1zM581 537h1v2h-1zM582 537h1v2h-1zM583 537h1v2h-1zM584 537h1v2h-1zM585 537h1v2h-1zM586 537h1v2h-1zM587 537h1v2h-1zM588 537h1v2h-1zM589 537h1v2h-1zM590 537h1v2h-1zM591 537h1v2h-1zM592 537h1v2h-1zM593 537h1v2h-1zM594 538h1v1h-1zM595 537h1v2h-1zM596 537h1v2h-1zM597 537h1v2h-1zM598 537h1v2h-1zM599 537h1v2h-1zM600 537h1v2h-1zM601 537h1v2h-1zM602 537h1v2h-1zM603 537h1v2h-1zM604 537h1v2h-1zM605 537h1v2h-1zM606 537h1v2h-1zM607 537h1v2h-1zM608 537h1v2h-1zM609 537h1v2h-1zM610 537h1v2h-1zM611 537h1v2h-1zM612 537h1v2h-1zM613 537h1v2h-1zM614 537h1v2h-1zM615 537h1v2h-1zM616 537h1v2h-1zM617 537h1v2h-1zM618 537h1v2h-1zM619 537h1v2h-1zM620 537h1v2h-1zM621 537h1v2h-1zM622 537h1v2h-1zM623 537h1v2h-1zM624 538h1v1h-1zM625 537h1v2h-1zM626 537h1v2h-1zM627 537h1v2h-1zM628 537h1v2h-1zM629 538h1v1h-1zM630 537h1v2h-1zM631 537h1v2h-1zM632 537h1v2h-1zM633 537h1v2h-1zM634 537h1v2h-1zM635 537h1v2h-1zM636 537h1v2h-1zM637 537h1v2h-1zM638 537h1v2h-1zM639 537h1v2h-1zM640 537h1v2h-1zM641 537h1v2h-1zM642 537h1v2h-1zM643 537h1v2h-1zM644 537h1v2h-1zM645 537h1v2h-1zM646 537h1v2h-1zM647 537h1v2h-1zM648 537h1v2h-1zM649 537h1v2h-1zM650 537h1v2h-1zM651 537h1v2h-1zM652 537h1v2h-1zM653 537h1v2h-1zM654 537h1v2h-1zM655 537h1v2h-1zM656 537h1v2h-1zM657 537h1v2h-1zM658 537h1v2h-1zM659 537h1v2h-1zM660 537h1v2h-1zM661 537h1v2h-1zM662 537h1v2h-1zM663 537h1v2h-1zM664 537h1v2h-1zM665 538h1v1h-1zM666 537h1v2h-1zM667 537h1v2h-1zM668 537h1v2h-1zM669 537h1v2h-1zM670 537h1v2h-1zM671 537h1v2h-1zM672 537h1v2h-1zM673 537h1v2h-1zM674 537h1v2h-1zM675 537h1v2h-1zM676 537h1v2h-1zM677 537h1v2h-1zM678 537h1v2h-1zM679 538h1v1h-1zM680 538h1v1h-1zM681 537h1v2h-1zM682 537h1v2h-1zM683 538h1v1h-1zM684 537h1v2h-1zM685 537h1v2h-1zM686 537h1v2h-1zM687 537h1v2h-1zM688 537h1v2h-1zM689 537h1v2h-1zM690 537h1v2h-1zM691 537h1v2h-1zM692 537h1v2h-1zM693 537h1v2h-1zM694 537h1v2h-1zM695 537h1v2h-1zM696 537h1v2h-1zM697 537h1v2h-1zM698 537h1v2h-1zM699 537h1v2h-1zM700 537h1v2h-1zM701 537h1v2h-1zM702 537h1v2h-1zM703 538h1v1h-1zM704 537h1v2h-1zM705 537h1v2h-1zM706 537h1v2h-1zM707 537h1v2h-1zM708 537h1v2h-1zM709 537h1v2h-1zM710 537h1v2h-1zM711 537h1v2h-1zM712 538h1v1h-1zM713 537h1v2h-1zM714 537h1v2h-1zM715 537h1v2h-1zM716 537h1v2h-1zM717 537h1v2h-1zM718 538h1v1h-1zM719 537h1v2h-1zM720 537h1v2h-1zM721 537h1v2h-1zM722 537h1v2h-1zM723 537h1v2h-1zM724 537h1v2h-1zM725 537h1v2h-1zM726 537h1v2h-1zM727 537h1v2h-1zM728 537h1v2h-1zM729 537h1v2h-1zM730 537h1v2h-1zM731 537h1v2h-1zM732 538h1v1h-1zM733 537h1v2h-1zM734 538h1v1h-1zM735 537h1v1h-1zM736 537h1v1h-1zM737 537h1v1h-1zM738 537h1v1h-1zM739 537h1v1h-1zM740 537h1v1h-1zM741 537h1v1h-1zM742 537h1v1h-1zM743 537h1v1h-1zM744 537h1v1h-1zM745 537h1v1h-1zM746 537h1v1h-1zM747 537h1v1h-1zM748 537h1v1h-1zM749 537h1v1h-1zM750 537h1v1h-1zM751 537h1v1h-1zM752 537h1v1h-1zM753 537h1v1h-1zM754 537h1v1h-1zM755 537h1v1h-1zM756 537h1v1h-1zM757 537h1v1h-1zM758 537h1v1h-1zM759 537h1v1h-1zM760 537h1v1h-1zM761 537h1v1h-1zM762 537h1v1h-1zM763 537h1v1h-1zM764 537h1v1h-1zM765 537h1v1h-1zM766 537h1v1h-1zM767 537h1v1h-1zM768 537h1v1h-1zM769 537h1v1h-1zM770 537h1v1h-1zM771 537h1v1h-1zM772 537h1v1h-1zM773 537h1v1h-1zM774 537h1v1h-1zM775 537h1v2h-1zM776 537h1v1h-1zM777 537h1v1h-1zM778 537h1v1h-1zM779 537h1v1h-1zM780 537h1v1h-1zM781 537h1v1h-1zM782 537h1v1h-1zM783 537h1v1h-1zM784 537h1v1h-1zM785 537h1v1h-1zM786 537h1v1h-1zM787 537h1v1h-1zM788 537h1v1h-1zM789 537h1v1h-1zM790 537h1v1h-1zM791 537h1v1h-1zM792 537h1v1h-1zM793 537h1v1h-1zM794 537h1v1h-1zM795 537h1v1h-1zM796 537h1v1h-1zM797 537h1v1h-1zM798 537h1v1h-1zM799 537h1v1h-1zM800 537h1v1h-1zM801 537h1v1h-1zM802 537h1v1h-1zM803 537h1v1h-1zM804 537h1v1h-1zM805 537h1v1h-1zM806 537h1v1h-1zM807 537h1v1h-1zM808 537h1v1h-1zM809 537h1v1h-1zM810 537h1v1h-1zM811 537h1v1h-1zM812 537h1v1h-1zM813 537h1v1h-1zM814 537h1v2h-1zM815 537h1v1h-1zM816 537h1v1h-1zM817 537h1v1h-1zM818 537h1v1h-1zM819 537h1v1h-1zM820 537h1v1h-1zM821 537h1v1h-1zM822 537h1v1h-1zM823 537h1v1h-1zM824 537h1v1h-1zM825 537h1v1h-1zM826 537h1v1h-1zM827 537h1v1h-1zM828 537h1v1h-1zM829 537h1v1h-1zM830 537h1v1h-1zM831 537h1v1h-1zM832 537h1v1h-1zM833 537h1v1h-1zM834 537h1v1h-1zM835 537h1v1h-1zM836 537h1v1h-1zM837 537h1v1h-1zM838 537h1v1h-1zM839 537h1v1h-1zM840 537h1v1h-1zM841 537h1v2h-1zM842 537h1v1h-1zM843 537h1v1h-1zM844 537h1v1h-1zM845 537h1v1h-1zM846 537h1v1h-1zM847 537h1v1h-1zM848 537h1v1h-1zM849 537h1v1h-1zM850 537h1v1h-1zM851 537h1v1h-1zM852 537h1v1h-1zM853 537h1v1h-1zM854 537h1v1h-1zM855 537h1v1h-1zM856 537h1v1h-1zM857 537h1v1h-1zM858 537h1v1h-1zM859 537h1v1h-1zM860 537h1v1h-1zM861 537h1v1h-1zM862 537h1v1h-1zM863 537h1v1h-1zM864 537h1v1h-1zM865 537h1v1h-1zM866 537h1v1h-1zM867 537h1v1h-1zM868 537h1v1h-1zM869 537h1v1h-1zM870 537h1v2h-1zM871 537h1v1h-1zM872 537h1v1h-1zM873 537h1v1h-1zM874 537h1v1h-1zM875 537h1v1h-1zM876 537h1v1h-1zM877 537h1v1h-1zM878 537h1v1h-1zM879 537h1v1h-1zM880 537h1v1h-1zM881 537h1v1h-1zM882 537h1v1h-1zM883 537h1v1h-1zM884 537h1v2h-1zM885 537h1v1h-1zM886 537h1v1h-1zM887 537h1v1h-1zM888 537h1v1h-1zM889 537h1v1h-1zM890 537h1v1h-1zM891 537h1v1h-1zM892 537h1v1h-1zM893 537h1v1h-1zM894 537h1v1h-1zM895 537h1v1h-1zM896 537h1v1h-1zM897 537h1v1h-1zM898 537h1v1h-1zM899 537h1v1h-1zM900 537h1v1h-1zM901 537h1v1h-1zM902 537h1v1h-1zM903 537h1v1h-1zM904 537h1v1h-1zM905 537h1v1h-1zM906 537h1v1h-1zM907 537h1v1h-1zM908 537h1v2h-1zM909 537h1v1h-1zM910 537h1v2h-1zM911 537h1v1h-1zM912 537h1v1h-1zM913 537h1v1h-1zM914 537h1v1h-1zM915 537h1v1h-1zM916 537h1v1h-1zM917 537h1v1h-1zM918 537h1v1h-1zM919 537h1v1h-1zM920 537h1v1h-1zM921 537h1v1h-1zM922 537h1v1h-1zM923 537h1v1h-1zM924 537h1v2h-1zM925 537h1v1h-1zM926 537h1v1h-1zM927 537h1v1h-1zM928 537h1v1h-1zM929 537h1v1h-1zM930 537h1v1h-1zM931 537h1v1h-1zM932 537h1v1h-1zM933 537h1v1h-1zM934 537h1v1h-1zM935 537h1v1h-1zM936 537h1v1h-1zM937 537h1v1h-1zM938 537h1v1h-1zM939 537h1v1h-1zM940 537h1v1h-1zM941 537h1v1h-1zM942 537h1v2h-1zM943 537h1v1h-1zM944 537h1v1h-1zM945 537h1v1h-1zM946 537h1v1h-1zM947 537h1v1h-1zM948 537h1v1h-1zM949 537h1v1h-1zM950 537h1v1h-1zM951 537h1v1h-1zM952 537h1v2h-1zM953 537h1v1h-1zM954 537h1v1h-1zM955 537h1v1h-1zM956 537h1v2h-1zM957 537h1v1h-1zM958 537h1v1h-1zM959 537h1v1h-1zM960 537h1v1h-1zM961 537h1v1h-1zM962 537h1v1h-1zM963 537h1v1h-1zM964 537h1v1h-1zM965 537h1v1h-1zM966 537h1v1h-1zM967 537h1v1h-1zM968 537h1v1h-1zM969 537h1v1h-1zM970 537h1v1h-1zM971 537h1v1h-1zM972 537h1v1h-1zM973 537h1v1h-1zM974 537h1v1h-1zM975 537h1v1h-1zM976 537h1v1h-1zM977 537h1v1h-1zM978 537h1v1h-1zM979 537h1v2h-1zM980 537h1v1h-1zM981 537h1v1h-1zM982 537h1v1h-1zM983 537h1v1h-1zM984 537h1v1h-1zM985 537h1v1h-1zM986 537h1v1h-1zM987 537h1v1h-1zM988 537h1v1h-1zM989 537h1v1h-1zM990 537h1v1h-1zM991 537h1v1h-1zM992 537h1v1h-1zM993 537h1v1h-1zM994 537h1v1h-1zM995 537h1v1h-1zM996 537h1v1h-1zM997 537h1v1h-1zM998 537h1v1h-1zM999 537h1v1h-1zM1000 537h1v1h-1zM1001 537h1v1h-1zM1002 537h1v1h-1zM1003 537h1v1h-1zM1004 537h1v2h-1zM1005 537h1v1h-1zM1006 537h1v2h-1zM1007 537h1v1h-1zM1008 537h1v1h-1zM1009 537h1v1h-1zM1010 537h1v1h-1zM1011 537h1v1h-1zM1012 537h1v1h-1zM1013 537h1v1h-1zM1014 537h1v1h-1zM1015 537h1v1h-1zM1016 537h1v2h-1zM1017 537h1v1h-1zM1018 537h1v1h-1zM1019 537h1v1h-1zM1020 537h1v2h-1zM1021 537h1v2h-1zM1022 537h1v1h-1zM1023 537h1v1h-1zM1024 537h1v1h-1zM1025 537h1v1h-1zM1026 537h1v1h-1zM1027 537h1v1h-1zM1028 537h1v1h-1zM1029 537h1v1h-1zM1030 537h1v1h-1zM1031 537h1v1h-1zM1032 537h1v1h-1zM1033 537h1v1h-1zM1034 537h1v1h-1zM1035 537h1v1h-1zM1036 537h1v1h-1zM1037 537h1v1h-1zM1038 537h1v1h-1zM1039 537h1v1h-1zM1040 537h1v1h-1zM1041 537h1v1h-1zM1042 537h1v1h-1zM1043 537h1v1h-1zM1044 537h1v1h-1zM1045 537h1v1h-1zM1046 537h1v1h-1zM1047 537h1v1h-1zM1048 537h1v1h-1zM1049 537h1v1h-1zM1050 537h1v1h-1zM1051 537h1v1h-1zM1052 537h1v1h-1zM1053 537h1v1h-1zM1054 537h1v1h-1zM1055 537h1v1h-1zM1056 537h1v1h-1zM1057 537h1v1h-1zM1058 537h1v1h-1zM1059 537h1v1h-1zM1060 537h1v1h-1zM1061 537h1v1h-1zM1062 537h1v1h-1zM1063 537h1v1h-1zM1064 537h1v1h-1zM1065 537h1v1h-1zM1066 537h1v1h-1zM1067 537h1v1h-1zM1068 537h1v1h-1zM1069 537h1v1h-1zM1070 537h1v1h-1zM1071 537h1v1h-1zM1072 537h1v1h-1zM1073 537h1v1h-1zM1074 537h1v1h-1zM1075 537h1v1h-1zM1076 537h1v1h-1zM1077 537h1v1h-1zM1078 537h1v1h-1zM1079 537h1v1h-1zM1080 537h1v1h-1zM1081 537h1v1h-1zM1082 537h1v1h-1zM1083 537h1v1h-1zM1084 537h1v1h-1zM1085 537h1v1h-1zM1086 537h1v1h-1zM1087 537h1v1h-1zM1088 537h1v1h-1zM1089 537h1v2h-1zM1090 537h1v1h-1zM1091 537h1v1h-1zM1092 537h1v1h-1zM1093 537h1v1h-1zM1094 537h1v1h-1zM1095 537h1v1h-1zM1096 537h1v1h-1zM1097 537h1v1h-1zM1098 537h1v1h-1zM1099 537h1v1h-1zM1100 537h1v1h-1zM1101 537h1v1h-1zM1102 537h1v1h-1zM1103 537h1v1h-1zM1104 537h1v1h-1zM1105 537h1v1h-1zM1106 537h1v1h-1zM1107 537h1v1h-1zM1108 537h1v2h-1zM1109 537h1v1h-1zM1110 537h1v1h-1zM1111 537h1v1h-1zM1112 537h1v1h-1zM1113 537h1v1h-1zM1114 537h1v1h-1zM1115 537h1v1h-1zM1116 537h1v1h-1zM1117 537h1v1h-1zM1118 537h1v1h-1zM1119 537h1v1h-1zM1120 537h1v1h-1zM1121 537h1v1h-1zM1122 537h1v1h-1zM1123 537h1v1h-1zM1124 537h1v1h-1zM1125 537h1v1h-1zM1126 537h1v1h-1zM1127 537h1v1h-1zM1128 537h1v1h-1zM1129 537h1v1h-1zM1130 537h1v1h-1zM1131 537h1v1h-1zM1132 537h1v1h-1zM1133 537h1v1h-1zM1134 537h1v1h-1zM1135 537h1v1h-1zM1136 537h1v1h-1zM1137 537h1v1h-1zM1138 537h1v1h-1zM1139 537h1v1h-1zM1140 537h1v1h-1zM1141 537h1v1h-1zM1142 537h1v1h-1zM1143 537h1v1h-1zM1144 537h1v1h-1zM1145 537h1v1h-1zM1146 537h1v1h-1zM1147 537h1v1h-1zM1148 537h1v1h-1zM1149 537h1v1h-1zM1150 537h1v1h-1zM1151 537h1v1h-1zM1152 537h1v1h-1zM1153 537h1v1h-1zM1154 537h1v1h-1zM1155 537h1v1h-1zM1156 537h1v1h-1zM1157 537h1v1h-1zM1158 537h1v1h-1zM1159 537h1v1h-1zM1160 537h1v1h-1zM1161 537h1v1h-1zM1162 537h1v1h-1zM1163 537h1v1h-1zM1164 537h1v1h-1zM1165 537h1v1h-1zM1166 537h1v1h-1zM1167 537h1v1h-1zM1168 537h1v1h-1zM1169 537h1v1h-1zM1170 537h1v1h-1zM1171 537h1v1h-1zM1172 537h1v1h-1zM1173 537h1v1h-1zM1174 537h1v1h-1zM1175 537h1v1h-1zM1176 537h1v1h-1zM1177 537h1v1h-1zM1178 537h1v1h-1zM1179 537h1v1h-1zM1180 537h1v1h-1zM1181 537h1v1h-1zM1182 537h1v1h-1zM1183 537h1v1h-1zM1184 537h1v1h-1zM1185 537h1v1h-1zM1186 537h1v1h-1zM1187 537h1v1h-1zM1188 537h1v1h-1zM1189 537h1v1h-1zM1190 537h1v1h-1zM1191 537h1v1h-1zM1192 537h1v1h-1zM1193 537h1v1h-1zM1194 537h1v1h-1zM1195 537h1v1h-1zM1196 537h1v1h-1zM1197 537h1v1h-1zM1198 537h1v1h-1zM1199 537h1v1h-1zM1200 537h1v1h-1zM1201 537h1v1h-1zM1202 537h1v1h-1zM1203 537h1v1h-1zM1204 537h1v1h-1zM1205 537h1v1h-1zM1206 537h1v1h-1zM1207 537h1v1h-1zM1208 537h1v1h-1zM1209 537h1v1h-1zM1210 537h1v1h-1zM1211 537h1v1h-1zM1212 537h1v1h-1zM1213 537h1v1h-1zM1214 537h1v1h-1zM1215 537h1v1h-1zM1216 537h1v1h-1zM1217 537h1v1h-1zM1218 537h1v1h-1zM1219 537h1v1h-1zM1220 537h1v1h-1zM1221 537h1v1h-1zM1222 537h1v1h-1zM1223 537h1v2h-1zM1224 537h1v1h-1zM1225 537h1v1h-1zM1226 537h1v1h-1zM1227 537h1v2h-1zM1228 537h1v1h-1zM1229 537h1v1h-1zM1230 537h1v1h-1zM1231 537h1v1h-1zM1232 537h1v1h-1zM1233 537h1v1h-1zM1234 537h1v1h-1zM1235 537h1v1h-1zM1236 537h1v1h-1zM1237 537h1v1h-1zM1238 537h1v1h-1zM1239 537h1v1h-1zM1240 537h1v1h-1zM1241 537h1v1h-1zM1242 537h1v1h-1zM1243 537h1v1h-1zM1244 537h1v1h-1zM1245 537h1v1h-1zM1246 537h1v1h-1zM1247 537h1v1h-1zM1248 537h1v1h-1zM1249 537h1v1h-1zM1250 537h1v1h-1zM1251 537h1v1h-1zM1252 537h1v1h-1zM1253 537h1v1h-1zM1254 537h1v1h-1zM1255 537h1v1h-1zM1256 537h1v1h-1zM1257 537h1v1h-1zM1258 537h1v1h-1zM1259 537h1v1h-1zM1260 537h1v1h-1zM1261 537h1v1h-1zM1262 537h1v1h-1zM1263 537h1v1h-1zM1264 537h1v1h-1zM1265 537h1v1h-1zM1266 537h1v1h-1zM1267 537h1v1h-1zM1268 537h1v1h-1zM1269 537h1v1h-1zM1270 537h1v1h-1zM1271 537h1v1h-1zM1272 537h1v1h-1zM1273 537h1v1h-1zM1274 537h1v1h-1zM1275 537h1v1h-1zM1276 537h1v1h-1zM1277 537h1v1h-1zM1278 537h1v1h-1zM1279 537h1v1h-1zM1280 537h1v1h-1zM1281 537h1v1h-1zM1282 537h1v2h-1zM1283 537h1v1h-1zM1284 537h1v1h-1zM1285 537h1v1h-1zM1286 537h1v1h-1zM1287 537h1v1h-1zM1288 537h1v1h-1zM1289 537h1v1h-1zM1290 537h1v1h-1zM1291 537h1v1h-1zM1292 537h1v1h-1zM1293 537h1v1h-1zM1294 537h1v1h-1zM1295 537h1v1h-1zM1296 537h1v1h-1zM1297 537h1v1h-1zM1298 537h1v1h-1zM1299 537h1v1h-1zM1300 537h1v1h-1zM1301 537h1v1h-1zM1302 537h1v2h-1zM1303 537h1v1h-1zM1304 537h1v2h-1zM1305 537h1v1h-1zM1306 537h1v1h-1zM1307 537h1v1h-1zM1308 537h1v1h-1zM1309 537h1v1h-1zM1310 537h1v2h-1zM1311 537h1v1h-1zM1312 537h1v1h-1zM1313 537h1v1h-1zM1314 537h1v1h-1zM1315 537h1v1h-1zM1316 537h1v1h-1zM1317 537h1v1h-1zM1318 537h1v1h-1zM1319 537h1v1h-1zM1320 537h1v1h-1zM1321 537h1v1h-1zM1322 537h1v1h-1zM1323 537h1v1h-1zM1324 537h1v1h-1zM1325 537h1v1h-1zM1326 537h1v1h-1zM1327 537h1v1h-1zM1328 537h1v1h-1zM1329 537h1v1h-1zM1330 537h1v2h-1zM1331 537h1v1h-1zM1332 537h1v1h-1zM1333 537h1v1h-1zM1334 537h1v1h-1zM1335 537h1v1h-1zM1336 537h1v1h-1zM1337 537h1v1h-1zM1338 537h1v1h-1zM1339 537h1v1h-1zM1340 537h1v2h-1zM1341 537h1v1h-1zM1342 537h1v1h-1zM1343 537h1v1h-1zM1344 537h1v1h-1zM1345 537h1v1h-1zM1346 537h1v1h-1zM1347 537h1v1h-1zM1348 537h1v1h-1zM1349 537h1v1h-1zM1350 537h1v1h-1zM1351 537h1v1h-1zM1352 537h1v1h-1zM1353 537h1v1h-1zM1354 537h1v1h-1zM1355 537h1v1h-1zM1356 537h1v1h-1zM1357 537h1v1h-1zM1358 537h1v1h-1zM1359 537h1v1h-1zM1360 537h1v1h-1zM1361 537h1v1h-1zM1362 537h1v1h-1zM1363 537h1v1h-1zM1364 537h1v1h-1zM1365 537h1v1h-1z" fill="#ff0000"/>
<path d="M101 535h1v1h-1zM102 535h1v1h-1zM103 535h1v1h-1zM104 535h1v1h-1zM105 535h1v1h-1zM106 533h1v3h-1zM107 529h1v4h-1zM108 532h1v3h-1zM109 535h1v1h-1zM110 534h1v1h-1zM111 534h1v1h-1zM112 535h1v1h-1zM113 535h1v1h-1zM114 523h1v12h-1zM115 510h1v26h-1zM116 535h1v1h-1zM117 535h1v1h-1zM118 535h1v1h-1zM119 534h1v1h-1zM120 535h1v1h-1zM121 535h1v1h-1zM122 535h1v1h-1zM123 535h1v1h-1zM124 533h1v3h-1zM125 529h1v4h-1zM126 532h1v4h-1zM127 535h1v1h-1zM128 523h1v12h-1zM129 511h1v25h-1zM130 506h1v15h-1zM131 521h1v15h-1zM132 535h1v1h-1zM133 534h1v1h-1zM134 535h1v1h-1zM135 532h1v4h-1zM136 528h1v4h-1zM137 532h1v4h-1zM138 527h1v9h-1zM139 518h1v9h-1zM140 521h1v8h-1zM141 529h1v7h-1zM142 534h1v1h-1zM143 535h1v1h-1zM144 529h1v7h-1zM145 521h1v8h-1zM146 528h1v8h-1zM147 535h1v1h-1zM148 535h1v1h-1zM149 535h1v1h-1zM150 535h1v1h-1zM151 535h1v1h-1zM152 535h1v1h-1zM153 535h1v1h-1zM154 535h1v1h-1zM155 535h1v1h-1zM156 535h1v1h-1zM157 535h1v1h-1zM158 535h1v1h-1zM159 535h1v1h-1zM160 535h1v1h-1zM161 535h1v1h-1zM162 535h1v1h-1zM163 535h1v1h-1zM164 535h1v1h-1zM165 535h1v1h-1zM166 535h1v1h-1zM167 535h1v1h-1zM168 535h1v1h-1zM169 535h1v1h-1zM170 535h1v1h-1zM171 535h1v1h-1zM172 535h1v1h-1zM173 535h1v1h-1zM174 535h1v1h-1zM175 535h1v1h-1zM176 535h1v1h-1zM177 535h1v1h-1zM178 535h1v1h-1zM179 535h1v1h-1zM180 535h1v1h-1zM181 535h1v1h-1zM182 535h1v1h-1zM183 535h1v1h-1zM184 535h1v1h-1zM185 535h1v1h-1zM186 535h1v1h-1zM187 535h1v1h-1zM188 535h1v1h-1zM189 535h1v1h-1zM190 535h1v1h-1zM191 535h1v1h-1zM192 535h1v1h-1zM193 535h1v1h-1zM194 535h1v1h-1zM195 535h1v1h-1zM196 535h1v1h-1zM197 535h1v1h-1zM198 535h1v1h-1zM199 535h1v1h-1zM200 535h1v1h-1zM201 535h1v1h-1zM202 535h1v1h-1zM203 535h1v1h-1zM204 535h1v1h-1zM205 535h1v1h-1zM206 535h1v1h-1zM207 535h1v1h-1zM208 535h1v1h-1zM209 535h1v1h-1zM210 535h1v1h-1zM211 535h1v1h-1zM212 535h1v1h-1zM213 535h1v1h-1zM214 534h1v1h-1zM215 535h1v1h-1zM216 535h1v1h-1zM217 528h1v8h-1zM218 520h1v8h-1zM219 528h1v8h-1zM220 535h1v1h-1zM221 535h1v1h-1zM222 535h1v1h-1zM223 534h1v2h-1zM224 535h1v1h-1zM225 535h1v1h-1zM226 535h1v1h-1zM227 535h1v1h-1zM228 535h1v1h-1zM229 535h1v1h-1zM230 535h1v1h-1zM231 534h1v2h-1zM232 535h1v1h-1zM233 535h1v1h-1zM234 534h1v1h-1zM235 535h1v1h-1zM236 535h1v1h-1zM237 535h1v1h-1zM238 532h1v4h-1zM239 528h1v4h-1zM240 531h1v4h-1zM241 534h1v1h-1zM242 535h1v1h-1zM243 527h1v9h-1zM244 518h1v9h-1zM245 526h1v10h-1zM246 534h1v1h-1zM247 529h1v7h-1zM248 521h1v8h-1zM249 528h1v8h-1zM250 535h1v1h-1zM251 535h1v1h-1zM252 531h1v5h-1zM253 526h1v5h-1zM254 528h1v8h-1zM255 519h1v9h-1zM256 527h1v9h-1zM257 535h1v1h-1zM258 535h1v1h-1zM259 535h1v1h-1zM260 535h1v1h-1zM261 530h1v6h-1zM262 524h1v6h-1zM263 529h1v6h-1zM264 535h1v1h-1zM265 535h1v1h-1zM266 535h1v1h-1zM267 517h1v18h-1zM268 526h1v10h-1zM269 535h1v1h-1zM270 524h1v12h-1zM271 512h1v12h-1zM272 524h1v12h-1zM273 535h1v1h-1zM274 523h1v13h-1zM275 515h1v10h-1zM276 525h1v11h-1zM277 526h1v9h-1zM278 517h1v9h-1zM279 526h1v10h-1zM280 524h1v11h-1zM281 512h1v24h-1zM282 534h1v1h-1zM283 535h1v1h-1zM284 535h1v1h-1zM285 535h1v1h-1zM286 535h1v1h-1zM287 535h1v1h-1zM288 535h1v1h-1zM289 535h1v1h-1zM290 535h1v1h-1zM291 534h1v1h-1zM292 535h1v1h-1zM293 535h1v1h-1zM294 535h1v1h-1zM295 534h1v1h-1zM296 534h1v2h-1zM297 535h1v1h-1zM298 535h1v1h-1zM299 535h1v1h-1zM300 535h1v1h-1zM301 535h1v1h-1zM302 535h1v1h-1zM303 528h1v8h-1zM304 528h1v4h-1zM305 532h1v4h-1zM306 535h1v1h-1zM307 531h1v5h-1zM308 522h1v9h-1zM309 516h1v9h-1zM310 519h1v16h-1zM311 527h1v8h-1zM312 535h1v1h-1zM313 535h1v1h-1zM314 535h1v1h-1zM315 535h1v1h-1zM316 535h1v1h-1zM317 535h1v1h-1zM318 535h1v1h-1zM319 535h1v1h-1zM320 535h1v1h-1zM321 534h1v1h-1zM322 535h1v1h-1zM323 527h1v9h-1zM324 518h1v9h-1zM325 517h1v19h-1zM326 535h1v1h-1zM327 532h1v4h-1zM328 528h1v4h-1zM329 531h1v4h-1zM330 528h1v4h-1zM331 532h1v4h-1zM332 529h1v6h-1zM333 527h1v9h-1zM334 517h1v10h-1zM335 526h1v10h-1zM336 534h1v1h-1zM337 535h1v1h-1zM338 535h1v1h-1zM339 535h1v1h-1zM340 535h1v1h-1zM341 535h1v1h-1zM342 535h1v1h-1zM343 535h1v1h-1zM344 534h1v1h-1zM345 535h1v1h-1zM346 535h1v1h-1zM347 535h1v1h-1zM348 535h1v1h-1zM349 535h1v1h-1zM350 535h1v1h-1zM351 535h1v1h-1zM352 535h1v1h-1zM353 535h1v1h-1zM354 535h1v1h-1zM355 530h1v6h-1zM356 519h1v11h-1zM357 504h1v15h-1zM358 492h1v22h-1zM359 514h1v22h-1zM360 535h1v1h-1zM361 535h1v1h-1zM362 535h1v1h-1zM363 531h1v4h-1zM364 527h1v4h-1zM365 531h1v4h-1zM366 535h1v1h-1zM367 534h1v1h-1zM368 534h1v2h-1zM369 535h1v1h-1zM370 528h1v8h-1zM371 519h1v9h-1zM372 527h1v9h-1zM373 532h1v4h-1zM374 519h1v13h-1zM375 509h1v26h-1zM376 534h1v1h-1zM377 535h1v1h-1zM378 535h1v1h-1zM379 532h1v4h-1zM380 528h1v4h-1zM381 526h1v9h-1zM382 517h1v10h-1zM383 527h1v8h-1zM384 535h1v1h-1zM385 525h1v11h-1zM386 513h1v12h-1zM387 524h1v12h-1zM388 534h1v1h-1zM389 535h1v1h-1zM390 535h1v1h-1zM391 534h1v1h-1zM392 533h1v3h-1zM393 529h1v4h-1zM394 532h1v4h-1zM395 535h1v1h-1zM396 534h1v1h-1zM397 535h1v1h-1zM398 535h1v1h-1zM399 535h1v1h-1zM400 528h1v8h-1zM401 520h1v8h-1zM402 528h1v8h-1zM403 529h1v7h-1zM404 522h1v14h-1zM405 519h1v9h-1zM406 526h1v10h-1zM407 516h1v10h-1zM408 526h1v10h-1zM409 535h1v1h-1zM410 535h1v1h-1zM411 534h1v2h-1zM412 534h1v1h-1zM413 535h1v1h-1zM414 535h1v1h-1zM415 535h1v1h-1zM416 535h1v1h-1zM417 534h1v1h-1zM418 535h1v1h-1zM419 534h1v2h-1zM420 535h1v1h-1zM421 535h1v1h-1zM422 534h1v1h-1zM423 535h1v1h-1zM424 535h1v1h-1zM425 531h1v4h-1zM426 527h1v9h-1zM427 535h1v1h-1zM428 535h1v1h-1zM429 527h1v9h-1zM430 518h1v9h-1zM431 527h1v9h-1zM432 535h1v1h-1zM433 534h1v2h-1zM434 535h1v1h-1zM435 535h1v1h-1zM436 535h1v1h-1zM437 528h1v8h-1zM438 519h1v9h-1zM439 519h1v8h-1zM440 527h1v9h-1zM441 535h1v1h-1zM442 535h1v1h-1zM443 535h1v1h-1zM444 535h1v1h-1zM445 535h1v1h-1zM446 522h1v14h-1zM447 508h1v28h-1zM448 535h1v1h-1zM449 535h1v1h-1zM450 535h1v1h-1zM451 535h1v1h-1zM452 534h1v1h-1zM453 535h1v1h-1zM454 534h1v1h-1zM455 535h1v1h-1zM456 534h1v1h-1zM457 535h1v1h-1zM458 535h1v1h-1zM459 534h1v1h-1zM460 535h1v1h-1zM461 534h1v1h-1zM462 534h1v2h-1zM463 535h1v1h-1zM464 535h1v1h-1zM465 535h1v1h-1zM466 535h1v1h-1zM467 535h1v1h-1zM468 535h1v1h-1zM469 535h1v1h-1zM470 535h1v1h-1zM471 535h1v1h-1zM472 535h1v1h-1zM473 535h1v1h-1zM474 535h1v1h-1zM475 535h1v1h-1zM476 535h1v1h-1zM477 535h1v1h-1zM478 531h1v5h-1zM479 525h1v6h-1zM480 530h1v6h-1zM481 535h1v1h-1zM482 535h1v1h-1zM483 535h1v1h-1zM484 535h1v1h-1zM485 531h1v5h-1zM486 525h1v6h-1zM487 530h1v6h-1zM488 534h1v1h-1zM489 535h1v1h-1zM490 522h1v13h-1zM491 509h1v27h-1zM492 535h1v1h-1zM493 534h1v1h-1zM494 531h1v5h-1zM495 526h1v5h-1zM496 528h1v4h-1zM497 532h1v3h-1zM498 523h1v13h-1zM499 529h1v7h-1zM500 535h1v1h-1zM501 535h1v1h-1zM502 534h1v1h-1zM503 535h1v1h-1zM504 535h1v1h-1zM505 535h1v1h-1zM506 535h1v1h-1zM507 528h1v8h-1zM508 519h1v9h-1zM509 527h1v9h-1zM510 535h1v1h-1zM511 535h1v1h-1zM512 535h1v1h-1zM513 535h1v1h-1zM514 535h1v1h-1zM515 535h1v1h-1zM516 535h1v1h-1zM517 535h1v1h-1zM518 529h1v7h-1zM519 522h1v7h-1zM520 528h1v8h-1zM521 519h1v9h-1zM522 527h1v9h-1zM523 535h1v1h-1zM524 535h1v1h-1zM525 535h1v1h-1zM526 535h1v1h-1zM527 535h1v1h-1zM528 535h1v1h-1zM529 535h1v1h-1zM530 531h1v5h-1zM531 522h1v9h-1zM532 517h1v9h-1zM533 526h1v10h-1zM534 534h1v2h-1zM535 535h1v1h-1zM536 535h1v1h-1zM537 535h1v1h-1zM538 535h1v1h-1zM539 526h1v9h-1zM540 517h1v9h-1zM541 526h1v10h-1zM542 530h1v6h-1zM543 524h1v6h-1zM544 528h1v8h-1zM545 519h1v9h-1zM546 523h1v13h-1zM547 510h1v13h-1zM548 523h1v13h-1zM549 511h1v25h-1zM550 523h1v13h-1zM551 534h1v1h-1zM552 535h1v1h-1zM553 535h1v1h-1zM554 535h1v1h-1zM555 535h1v1h-1zM556 535h1v1h-1zM557 535h1v1h-1zM558 535h1v1h-1zM559 527h1v8h-1zM560 519h1v8h-1zM561 527h1v9h-1zM562 535h1v1h-1zM563 534h1v2h-1zM564 535h1v1h-1zM565 531h1v5h-1zM566 523h1v8h-1zM567 518h1v9h-1zM568 527h1v9h-1zM569 535h1v1h-1zM570 535h1v1h-1zM571 530h1v5h-1zM572 524h1v6h-1zM573 530h1v6h-1zM574 534h1v1h-1zM575 535h1v1h-1zM576 535h1v1h-1zM577 535h1v1h-1zM578 534h1v2h-1zM579 527h1v9h-1zM580 518h1v9h-1zM581 527h1v9h-1zM582 535h1v1h-1zM583 534h1v1h-1zM584 535h1v1h-1zM585 534h1v2h-1zM586 535h1v1h-1zM587 535h1v1h-1zM588 535h1v1h-1zM589 535h1v1h-1zM590 535h1v1h-1zM591 535h1v1h-1zM592 534h1v2h-1zM593 535h1v1h-1zM594 529h1v6h-1zM595 522h1v7h-1zM596 528h1v7h-1zM597 527h1v9h-1zM598 517h1v10h-1zM599 526h1v10h-1zM600 535h1v1h-1zM601 535h1v1h-1zM602 531h1v5h-1zM603 526h1v5h-1zM604 531h1v5h-1zM605 535h1v1h-1zM606 535h1v1h-1zM607 521h1v15h-1zM608 528h1v8h-1zM609 535h1v1h-1zM610 528h1v8h-1zM611 519h1v9h-1zM612 523h1v8h-1zM613 524h1v12h-1zM614 512h1v24h-1zM615 535h1v1h-1zM616 535h1v1h-1zM617 526h1v9h-1zM618 517h1v9h-1zM619 526h1v10h-1zM620 530h1v6h-1zM621 523h1v13h-1zM622 535h1v1h-1zM623 535h1v1h-1zM624 518h1v18h-1zM625 499h1v19h-1zM626 517h1v19h-1zM627 535h1v1h-1zM628 535h1v1h-1zM629 535h1v1h-1zM630 535h1v1h-1zM631 534h1v1h-1zM632 535h1v1h-1zM633 535h1v1h-1zM634 534h1v1h-1zM635 535h1v1h-1zM636 534h1v1h-1zM637 535h1v1h-1zM638 535h1v1h-1zM639 534h1v1h-1zM640 533h1v3h-1zM641 528h1v5h-1zM642 525h1v5h-1zM643 530h1v6h-1zM644 527h1v9h-1zM645 517h1v10h-1zM646 526h1v10h-1zM647 534h1v1h-1zM648 535h1v1h-1zM649 535h1v1h-1zM650 534h1v2h-1zM651 535h1v1h-1zM652 534h1v1h-1zM653 535h1v1h-1zM654 535h1v1h-1zM655 535h1v1h-1zM656 535h1v1h-1zM657 535h1v1h-1zM658 534h1v1h-1zM659 535h1v1h-1zM660 535h1v1h-1zM661 534h1v1h-1zM662 535h1v1h-1zM663 535h1v1h-1zM664 534h1v2h-1zM665 535h1v1h-1zM666 534h1v1h-1zM667 531h1v5h-1zM668 525h1v6h-1zM669 523h1v6h-1zM670 529h1v7h-1zM671 528h1v8h-1zM672 520h1v16h-1zM673 535h1v1h-1zM674 534h1v1h-1zM675 534h1v1h-1zM676 535h1v1h-1zM677 535h1v1h-1zM678 534h1v1h-1zM679 520h1v16h-1zM680 528h1v8h-1zM681 535h1v1h-1zM682 535h1v1h-1zM683 535h1v1h-1zM684 535h1v1h-1zM685 535h1v1h-1zM686 535h1v1h-1zM687 535h1v1h-1zM688 532h1v4h-1zM689 527h1v5h-1zM690 531h1v5h-1zM691 535h1v1h-1zM692 534h1v1h-1zM693 535h1v1h-1zM694 531h1v5h-1zM695 520h1v11h-1zM696 513h1v11h-1zM697 524h1v12h-1zM698 535h1v1h-1zM699 534h1v1h-1zM700 534h1v2h-1zM701 535h1v1h-1zM702 533h1v3h-1zM703 529h1v4h-1zM704 532h1v4h-1zM705 531h1v4h-1zM706 526h1v5h-1zM707 531h1v5h-1zM708 534h1v2h-1zM709 535h1v1h-1zM710 534h1v1h-1zM711 535h1v1h-1zM712 521h1v14h-1zM713 506h1v15h-1zM714 521h1v15h-1zM715 535h1v1h-1zM716 528h1v8h-1zM717 519h1v9h-1zM718 517h1v9h-1zM719 526h1v10h-1zM720 529h1v7h-1zM721 521h1v8h-1zM722 528h1v8h-1zM723 534h1v1h-1zM724 535h1v1h-1zM725 535h1v1h-1zM726 535h1v1h-1zM727 534h1v1h-1zM728 534h1v1h-1zM729 534h1v1h-1zM730 534h1v1h-1zM731 535h1v1h-1zM732 534h1v1h-1zM733 529h1v7h-1zM734 521h1v8h-1zM735 528h1v8h-1zM736 535h1v1h-1zM737 535h1v1h-1zM738 529h1v7h-1zM739 522h1v7h-1zM740 529h1v7h-1zM741 534h1v1h-1zM742 535h1v1h-1zM743 535h1v1h-1zM744 535h1v1h-1zM745 529h1v7h-1zM746 521h1v8h-1zM747 519h1v8h-1zM748 527h1v9h-1zM749 520h1v8h-1zM750 528h1v8h-1zM751 527h1v9h-1zM752 535h1v1h-1zM753 535h1v1h-1zM754 527h1v9h-1zM755 518h1v9h-1zM756 527h1v9h-1zM757 534h1v1h-1zM758 534h1v2h-1zM759 535h1v1h-1zM760 535h1v1h-1zM761 535h1v1h-1zM762 534h1v1h-1zM763 534h1v1h-1zM764 535h1v1h-1zM765 535h1v1h-1zM766 535h1v1h-1zM767 531h1v5h-1zM768 526h1v5h-1zM769 531h1v5h-1zM770 534h1v1h-1zM771 534h1v1h-1zM772 533h1v3h-1zM773 529h1v7h-1zM774 521h1v8h-1zM775 523h1v7h-1zM776 530h1v6h-1zM777 534h1v1h-1zM778 535h1v1h-1zM779 535h1v1h-1zM780 534h1v2h-1zM781 534h1v1h-1zM782 535h1v1h-1zM783 535h1v1h-1zM784 523h1v12h-1zM785 511h1v12h-1zM786 523h1v12h-1zM787 511h1v25h-1zM788 523h1v13h-1zM789 525h1v11h-1zM790 514h1v11h-1zM791 524h1v11h-1zM792 535h1v1h-1zM793 535h1v1h-1zM794 534h1v2h-1zM795 535h1v1h-1zM796 535h1v1h-1zM797 535h1v1h-1zM798 535h1v1h-1zM799 535h1v1h-1zM800 535h1v1h-1zM801 535h1v1h-1zM802 527h1v9h-1zM803 517h1v10h-1zM804 526h1v10h-1zM805 535h1v1h-1zM806 535h1v1h-1zM807 535h1v1h-1zM808 534h1v1h-1zM809 534h1v2h-1zM810 535h1v1h-1zM811 534h1v1h-1zM812 526h1v10h-1zM813 515h1v11h-1zM814 525h1v11h-1zM815 534h1v1h-1zM816 535h1v1h-1zM817 534h1v1h-1zM818 535h1v1h-1zM819 535h1v1h-1zM820 534h1v1h-1zM821 534h1v1h-1zM822 535h1v1h-1zM823 517h1v19h-1zM824 526h1v10h-1zM825 535h1v1h-1zM826 535h1v1h-1zM827 534h1v1h-1zM828 530h1v5h-1zM829 525h1v5h-1zM830 530h1v5h-1zM831 535h1v1h-1zM832 535h1v1h-1zM833 535h1v1h-1zM834 535h1v1h-1zM835 535h1v1h-1zM836 535h1v1h-1zM837 534h1v1h-1zM838 534h1v2h-1zM839 535h1v1h-1zM840 535h1v1h-1zM841 535h1v1h-1zM842 535h1v1h-1zM843 535h1v1h-1zM844 535h1v1h-1zM845 535h1v1h-1zM846 535h1v1h-1zM847 535h1v1h-1zM848 535h1v1h-1zM849 530h1v5h-1zM850 524h1v6h-1zM851 529h1v7h-1zM852 521h1v15h-1zM853 535h1v1h-1zM854 535h1v1h-1zM855 535h1v1h-1zM856 535h1v1h-1zM857 534h1v1h-1zM858 535h1v1h-1zM859 534h1v1h-1zM860 534h1v2h-1zM861 535h1v1h-1zM862 534h1v1h-1zM863 535h1v1h-1zM864 534h1v1h-1zM865 534h1v1h-1zM866 535h1v1h-1zM867 534h1v2h-1zM868 535h1v1h-1zM869 535h1v1h-1zM870 535h1v1h-1zM871 535h1v1h-1zM872 528h1v8h-1zM873 520h1v8h-1zM874 528h1v8h-1zM875 535h1v1h-1zM876 532h1v4h-1zM877 528h1v4h-1zM878 532h1v4h-1zM879 529h1v7h-1zM880 521h1v8h-1zM881 517h1v19h-1zM882 526h1v10h-1zM883 535h1v1h-1zM884 535h1v1h-1zM885 535h1v1h-1zM886 534h1v1h-1zM887 535h1v1h-1zM888 535h1v1h-1zM889 535h1v1h-1zM890 535h1v1h-1zM891 535h1v1h-1zM892 535h1v1h-1zM893 534h1v1h-1zM894 535h1v1h-1zM895 535h1v1h-1zM896 534h1v2h-1zM897 535h1v1h-1zM898 535h1v1h-1zM899 535h1v1h-1zM900 535h1v1h-1zM901 535h1v1h-1zM902 535h1v1h-1zM903 535h1v1h-1zM904 535h1v1h-1zM905 535h1v1h-1zM906 533h1v3h-1zM907 529h1v4h-1zM908 532h1v3h-1zM909 531h1v5h-1zM910 525h1v11h-1zM911 535h1v1h-1zM912 535h1v1h-1zM913 535h1v1h-1zM914 535h1v1h-1zM915 535h1v1h-1zM916 535h1v1h-1zM917 521h1v14h-1zM918 528h1v8h-1zM919 534h1v1h-1zM920 535h1v1h-1zM921 535h1v1h-1zM922 535h1v1h-1zM923 534h1v1h-1zM924 535h1v1h-1zM925 534h1v1h-1zM926 535h1v1h-1zM927 535h1v1h-1zM928 535h1v1h-1zM929 535h1v1h-1zM930 535h1v1h-1zM931 527h1v8h-1zM932 518h1v14h-1zM933 532h1v3h-1zM934 528h1v7h-1zM935 521h1v7h-1zM936 523h1v13h-1zM937 509h1v14h-1zM938 522h1v13h-1zM939 535h1v1h-1zM940 535h1v1h-1zM941 534h1v1h-1zM942 535h1v1h-1zM943 535h1v1h-1zM944 534h1v1h-1zM945 535h1v1h-1zM946 527h1v9h-1zM947 518h1v9h-1zM948 526h1v9h-1zM949 535h1v1h-1zM950 525h1v11h-1zM951 513h1v12h-1zM952 520h1v11h-1zM953 531h1v5h-1zM954 535h1v1h-1zM955 535h1v1h-1zM956 535h1v1h-1zM957 535h1v1h-1zM958 534h1v1h-1zM959 535h1v1h-1zM960 535h1v1h-1zM961 535h1v1h-1zM962 528h1v7h-1zM963 520h1v8h-1zM964 528h1v8h-1zM965 534h1v1h-1zM966 523h1v13h-1zM967 510h1v13h-1zM968 522h1v14h-1zM969 535h1v1h-1zM970 535h1v1h-1zM971 535h1v1h-1zM972 534h1v1h-1zM973 535h1v1h-1zM974 535h1v1h-1zM975 534h1v2h-1zM976 535h1v1h-1zM977 535h1v1h-1zM978 514h1v22h-1zM979 492h1v22h-1zM980 514h1v22h-1zM981 528h1v7h-1zM982 520h1v16h-1zM983 535h1v1h-1zM984 535h1v1h-1zM985 535h1v1h-1zM986 535h1v1h-1zM987 534h1v1h-1zM988 535h1v1h-1zM989 535h1v1h-1zM990 534h1v2h-1zM991 535h1v1h-1zM992 535h1v1h-1zM993 527h1v9h-1zM994 518h1v9h-1zM995 527h1v9h-1zM996 534h1v1h-1zM997 535h1v1h-1zM998 535h1v1h-1zM999 535h1v1h-1zM1000 535h1v1h-1zM1001 535h1v1h-1zM1002 535h1v1h-1zM1003 534h1v1h-1zM1004 524h1v12h-1zM1005 511h1v13h-1zM1006 509h1v8h-1zM1007 517h1v9h-1zM1008 524h1v6h-1zM1009 530h1v6h-1zM1010 531h1v4h-1zM1011 527h1v9h-1zM1012 535h1v1h-1zM1013 535h1v1h-1zM1014 529h1v7h-1zM1015 522h1v7h-1zM1016 529h1v7h-1zM1017 528h1v8h-1zM1018 518h1v10h-1zM1019 515h1v21h-1zM1020 535h1v1h-1zM1021 535h1v1h-1zM1022 535h1v1h-1zM1023 535h1v1h-1zM1024 535h1v1h-1zM1025 534h1v1h-1zM1026 527h1v9h-1zM1027 517h1v10h-1zM1028 526h1v9h-1zM1029 531h1v5h-1zM1030 525h1v6h-1zM1031 530h1v5h-1zM1032 535h1v1h-1zM1033 531h1v5h-1zM1034 525h1v6h-1zM1035 530h1v6h-1zM1036 534h1v1h-1zM1037 535h1v1h-1zM1038 535h1v1h-1zM1039 535h1v1h-1zM1040 527h1v9h-1zM1041 519h1v8h-1zM1042 520h1v8h-1zM1043 528h1v8h-1zM1044 526h1v5h-1zM1045 531h1v5h-1zM1046 535h1v1h-1zM1047 534h1v2h-1zM1048 535h1v1h-1zM1049 534h1v1h-1zM1050 534h1v1h-1zM1051 535h1v1h-1zM1052 535h1v1h-1zM1053 535h1v1h-1zM1054 534h1v1h-1zM1055 535h1v1h-1zM1056 535h1v1h-1zM1057 535h1v1h-1zM1058 535h1v1h-1zM1059 535h1v1h-1zM1060 534h1v1h-1zM1061 527h1v9h-1zM1062 518h1v18h-1zM1063 531h1v5h-1zM1064 522h1v9h-1zM1065 517h1v9h-1zM1066 526h1v9h-1zM1067 535h1v1h-1zM1068 534h1v1h-1zM1069 534h1v2h-1zM1070 535h1v1h-1zM1071 534h1v1h-1zM1072 534h1v1h-1zM1073 527h1v8h-1zM1074 519h1v8h-1zM1075 519h1v8h-1zM1076 527h1v9h-1zM1077 535h1v1h-1zM1078 534h1v1h-1zM1079 526h1v10h-1zM1080 516h1v10h-1zM1081 526h1v10h-1zM1082 516h1v10h-1zM1083 526h1v10h-1zM1084 524h1v12h-1zM1085 511h1v13h-1zM1086 523h1v12h-1zM1087 534h1v1h-1zM1088 534h1v1h-1zM1089 535h1v1h-1zM1090 535h1v1h-1zM1091 535h1v1h-1zM1092 535h1v1h-1zM1093 535h1v1h-1zM1094 534h1v1h-1zM1095 535h1v1h-1zM1096 535h1v1h-1zM1097 535h1v1h-1zM1098 534h1v2h-1zM1099 535h1v1h-1zM1100 534h1v1h-1zM1101 532h1v4h-1zM1102 527h1v5h-1zM1103 531h1v5h-1zM1104 535h1v1h-1zM1105 535h1v1h-1zM1106 534h1v1h-1zM1107 535h1v1h-1zM1108 520h1v15h-1zM1109 504h1v16h-1zM1110 520h1v16h-1zM1111 535h1v1h-1zM1112 535h1v1h-1zM1113 519h1v17h-1zM1114 527h1v9h-1zM1115 535h1v1h-1zM1116 535h1v1h-1zM1117 535h1v1h-1zM1118 535h1v1h-1zM1119 534h1v1h-1zM1120 522h1v14h-1zM1121 528h1v8h-1zM1122 519h1v9h-1zM1123 527h1v9h-1zM1124 535h1v1h-1zM1125 535h1v1h-1zM1126 535h1v1h-1zM1127 535h1v1h-1zM1128 535h1v1h-1zM1129 535h1v1h-1zM1130 535h1v1h-1zM1131 535h1v1h-1zM1132 535h1v1h-1zM1133 535h1v1h-1zM1134 531h1v5h-1zM1135 525h1v6h-1zM1136 529h1v7h-1zM1137 522h1v7h-1zM1138 529h1v7h-1zM1139 535h1v1h-1zM1140 535h1v1h-1zM1141 534h1v1h-1zM1142 535h1v1h-1zM1143 535h1v1h-1zM1144 535h1v1h-1zM1145 535h1v1h-1zM1146 535h1v1h-1zM1147 535h1v1h-1zM1148 535h1v1h-1zM1149 535h1v1h-1zM1150 535h1v1h-1zM1151 525h1v11h-1zM1152 513h1v12h-1zM1153 524h1v12h-1zM1154 535h1v1h-1zM1155 535h1v1h-1zM1156 508h1v28h-1zM1157 511h1v13h-1zM1158 524h1v12h-1zM1159 535h1v1h-1zM1160 534h1v1h-1zM1161 535h1v1h-1zM1162 535h1v1h-1zM1163 534h1v2h-1zM1164 535h1v1h-1zM1165 535h1v1h-1zM1166 528h1v8h-1zM1167 519h1v9h-1zM1168 527h1v9h-1zM1169 532h1v3h-1zM1170 528h1v8h-1zM1171 535h1v1h-1zM1172 535h1v1h-1zM1173 535h1v1h-1zM1174 535h1v1h-1zM1175 535h1v1h-1zM1176 535h1v1h-1zM1177 535h1v1h-1zM1178 535h1v1h-1zM1179 535h1v1h-1zM1180 535h1v1h-1zM1181 535h1v1h-1zM1182 535h1v1h-1zM1183 535h1v1h-1zM1184 535h1v1h-1zM1185 535h1v1h-1zM1186 535h1v1h-1zM1187 535h1v1h-1zM1188 535h1v1h-1zM1189 535h1v1h-1zM1190 535h1v1h-1zM1191 535h1v1h-1zM1192 518h1v18h-1zM1193 527h1v9h-1zM1194 531h1v5h-1zM1195 522h1v9h-1zM1196 518h1v5h-1zM1197 523h1v6h-1zM1198 527h1v3h-1zM1199 524h1v11h-1zM1200 523h1v13h-1zM1201 510h1v13h-1zM1202 523h1v13h-1zM1203 535h1v1h-1zM1204 535h1v1h-1zM1205 535h1v1h-1zM1206 535h1v1h-1zM1207 535h1v1h-1zM1208 535h1v1h-1zM1209 535h1v1h-1zM1210 535h1v1h-1zM1211 535h1v1h-1zM1212 534h1v1h-1zM1213 535h1v1h-1zM1214 534h1v1h-1zM1215 535h1v1h-1zM1216 530h1v5h-1zM1217 525h1v5h-1zM1218 530h1v6h-1zM1219 535h1v1h-1zM1220 535h1v1h-1zM1221 534h1v1h-1zM1222 534h1v1h-1zM1223 534h1v1h-1zM1224 535h1v1h-1zM1225 534h1v1h-1zM1226 535h1v1h-1zM1227 535h1v1h-1zM1228 535h1v1h-1zM1229 535h1v1h-1zM1230 534h1v1h-1zM1231 534h1v1h-1zM1232 530h1v6h-1zM1233 521h1v9h-1zM1234 518h1v3h-1zM1235 520h1v15h-1zM1236 516h1v10h-1zM1237 526h1v10h-1zM1238 518h1v9h-1zM1239 526h1v9h-1zM1240 535h1v1h-1zM1241 535h1v1h-1zM1242 535h1v1h-1zM1243 535h1v1h-1zM1244 535h1v1h-1zM1245 535h1v1h-1zM1246 535h1v1h-1zM1247 535h1v1h-1zM1248 535h1v1h-1zM1249 535h1v1h-1zM1250 530h1v6h-1zM1251 523h1v7h-1zM1252 529h1v6h-1zM1253 530h1v6h-1zM1254 524h1v6h-1zM1255 530h1v6h-1zM1256 534h1v1h-1zM1257 534h1v2h-1zM1258 528h1v8h-1zM1259 519h1v9h-1zM1260 527h1v8h-1zM1261 535h1v1h-1zM1262 535h1v1h-1zM1263 535h1v1h-1zM1264 535h1v1h-1zM1265 535h1v1h-1zM1266 534h1v1h-1zM1267 529h1v7h-1zM1268 521h1v8h-1zM1269 528h1v8h-1zM1270 535h1v1h-1zM1271 534h1v1h-1zM1272 527h1v9h-1zM1273 530h1v6h-1zM1274 524h1v6h-1zM1275 530h1v6h-1zM1276 533h1v3h-1zM1277 529h1v4h-1zM1278 532h1v4h-1zM1279 535h1v1h-1zM1280 535h1v1h-1zM1281 535h1v1h-1zM1282 535h1v1h-1zM1283 534h1v1h-1zM1284 532h1v4h-1zM1285 527h1v5h-1zM1286 531h1v5h-1zM1287 535h1v1h-1zM1288 535h1v1h-1zM1289 535h1v1h-1zM1290 529h1v7h-1zM1291 520h1v9h-1zM1292 517h1v9h-1zM1293 526h1v10h-1zM1294 534h1v1h-1zM1295 534h1v1h-1zM1296 535h1v1h-1zM1297 527h1v9h-1zM1298 518h1v9h-1zM1299 527h1v9h-1zM1300 521h1v15h-1zM1301 535h1v1h-1zM1302 529h1v6h-1zM1303 522h1v7h-1zM1304 529h1v7h-1zM1305 534h1v1h-1zM1306 535h1v1h-1zM1307 535h1v1h-1zM1308 535h1v1h-1zM1309 535h1v1h-1zM1310 535h1v1h-1zM1311 535h1v1h-1zM1312 535h1v1h-1zM1313 523h1v13h-1zM1314 509h1v14h-1zM1315 518h1v18h-1zM1316 534h1v1h-1zM1317 535h1v1h-1zM1318 535h1v1h-1zM1319 535h1v1h-1zM1320 535h1v1h-1zM1321 535h1v1h-1zM1322 523h1v12h-1zM1323 518h1v9h-1zM1324 527h1v9h-1zM1325 535h1v1h-1zM1326 535h1v1h-1zM1327 535h1v1h-1zM1328 525h1v11h-1zM1329 513h1v23h-1zM1330 535h1v1h-1zM1331 524h1v11h-1zM1332 513h1v11h-1zM1333 524h1v12h-1zM1334 522h1v7h-1zM1335 529h1v7h-1zM1336 524h1v6h-1zM1337 530h1v6h-1zM1338 528h1v4h-1zM1339 532h1v4h-1zM1340 535h1v1h-1zM1341 535h1v1h-1zM1342 535h1v1h-1zM1343 535h1v1h-1zM1344 535h1v1h-1zM1345 535h1v1h-1zM1346 535h1v1h-1zM1347 535h1v1h-1zM1348 534h1v1h-1zM1349 535h1v1h-1zM1350 535h1v1h-1zM1351 527h1v9h-1zM1352 519h1v8h-1zM1353 527h1v9h-1zM1354 530h1v5h-1zM1355 519h1v11h-1zM1356 512h1v12h-1zM1357 524h1v12h-1zM1358 522h1v13h-1zM1359 529h1v7h-1zM1360 535h1v1h-1zM1361 535h1v1h-1zM1362 535h1v1h-1zM1363 535h1v1h-1zM1364 535h1v1h-1zM1365 534h1v1h-1zM1366 535h1v1h-1z" fill="#00c000"/>
<path d="M101 527h1v10h-1zM102 527h1v5h-1zM103 532h1v5h-1zM104 528h1v5h-1zM105 531h1v6h-1zM106 525h1v6h-1zM107 527h1v5h-1zM108 527h1v10h-1zM109 524h1v3h-1zM110 526h1v3h-1zM111 527h1v1h-1zM112 527h1v5h-1zM113 531h1v6h-1zM114 525h1v6h-1zM115 529h1v8h-1zM116 527h1v2h-1zM117 527h1v5h-1zM118 532h1v5h-1zM119 530h1v4h-1zM120 528h1v2h-1zM121 529h1v2h-1zM122 526h1v3h-1zM123 528h1v4h-1zM124 532h1v5h-1zM125 526h1v6h-1zM126 523h1v3h-1zM127 525h1v7h-1zM128 532h1v5h-1zM129 528h1v6h-1zM130 529h1v4h-1zM131 531h1v6h-1zM132 525h1v6h-1zM133 531h1v6h-1zM134 528h1v5h-1zM135 527h1v2h-1zM136 524h1v3h-1zM137 525h1v6h-1zM138 528h1v9h-1zM139 519h1v9h-1zM140 519h1v6h-1zM141 525h1v6h-1zM142 528h1v2h-1zM143 529h1v4h-1zM144 528h1v9h-1zM145 526h1v3h-1zM146 523h1v3h-1zM147 526h1v7h-1zM148 533h1v4h-1zM149 530h1v4h-1zM150 528h1v2h-1zM151 529h1v8h-1zM152 536h1v1h-1zM153 536h1v1h-1zM154 536h1v1h-1zM155 536h1v1h-1zM156 536h1v1h-1zM157 536h1v1h-1zM158 536h1v1h-1zM159 536h1v1h-1zM160 536h1v1h-1zM161 536h1v1h-1zM162 536h1v1h-1zM163 536h1v1h-1zM164 536h1v1h-1zM165 536h1v1h-1zM166 536h1v1h-1zM167 536h1v1h-1zM168 536h1v1h-1zM169 536h1v1h-1zM170 536h1v1h-1zM171 536h1v1h-1zM172 536h1v1h-1zM173 536h1v1h-1zM174 536h1v1h-1zM175 536h1v1h-1zM176 536h1v1h-1zM177 536h1v1h-1zM178 536h1v1h-1zM179 536h1v1h-1zM180 536h1v1h-1zM181 536h1v1h-1zM182 536h1v1h-1zM183 536h1v1h-1zM184 536h1v1h-1zM185 536h1v1h-1zM186 536h1v1h-1zM187 536h1v1h-1zM188 536h1v1h-1zM189 536h1v1h-1zM190 536h1v1h-1zM191 536h1v1h-1zM192 536h1v1h-1zM193 536h1v1h-1zM194 536h1v1h-1zM195 536h1v1h-1zM196 536h1v1h-1zM197 536h1v1h-1zM198 536h1v1h-1zM199 536h1v1h-1zM200 536h1v1h-1zM201 536h1v1h-1zM202 536h1v1h-1zM203 536h1v1h-1zM204 536h1v1h-1zM205 536h1v1h-1zM206 536h1v1h-1zM207 531h1v6h-1zM208 524h1v7h-1zM209 525h1v12h-1zM210 525h1v1h-1zM211 524h1v6h-1zM212 530h1v7h-1zM213 528h1v5h-1zM214 527h1v2h-1zM215 524h1v3h-1zM216 524h1v13h-1zM217 531h1v3h-1zM218 529h1v2h-1zM219 530h1v2h-1zM220 528h1v2h-1zM221 528h1v1h-1zM222 529h1v1h-1zM223 525h1v6h-1zM224 531h1v6h-1zM225 528h1v5h-1zM226 526h1v2h-1zM227 528h1v2h-1zM228 527h1v3h-1zM229 521h1v6h-1zM230 518h1v3h-1zM231 521h1v16h-1zM232 527h1v6h-1zM233 524h1v3h-1zM234 526h1v6h-1zM235 532h1v5h-1zM236 528h1v5h-1zM237 526h1v2h-1zM238 525h1v6h-1zM239 531h1v6h-1zM240 526h1v6h-1zM241 524h1v2h-1zM242 524h1v6h-1zM243 530h1v7h-1zM244 527h1v5h-1zM245 527h1v4h-1zM246 528h1v2h-1zM247 529h1v4h-1zM248 533h1v4h-1zM249 529h1v4h-1zM250 529h1v4h-1zM251 533h1v4h-1zM252 529h1v4h-1zM253 533h1v4h-1zM254 530h1v4h-1zM255 528h1v2h-1zM256 529h1v4h-1zM257 533h1v4h-1zM258 528h1v5h-1zM259 532h1v5h-1zM260 524h1v8h-1zM261 520h1v4h-1zM262 524h1v8h-1zM263 532h1v5h-1zM264 526h1v6h-1zM265 526h1v5h-1zM266 531h1v6h-1zM267 526h1v6h-1zM268 531h1v6h-1zM269 529h1v4h-1zM270 529h1v4h-1zM271 531h1v6h-1zM272 525h1v6h-1zM273 525h1v6h-1zM274 527h1v10h-1zM275 524h1v3h-1zM276 526h1v3h-1zM277 527h1v1h-1zM278 527h1v1h-1zM279 526h1v2h-1zM280 524h1v6h-1zM281 527h1v10h-1zM282 525h1v2h-1zM283 527h1v5h-1zM284 529h1v8h-1zM285 521h1v8h-1zM286 529h1v8h-1zM287 524h1v7h-1zM288 529h1v8h-1zM289 529h1v2h-1zM290 527h1v2h-1zM291 529h1v4h-1zM292 533h1v4h-1zM293 529h1v4h-1zM294 528h1v2h-1zM295 525h1v3h-1zM296 525h1v6h-1zM297 528h1v2h-1zM298 529h1v2h-1zM299 527h1v3h-1zM300 525h1v2h-1zM301 527h1v5h-1zM302 532h1v5h-1zM303 528h1v5h-1zM304 532h1v5h-1zM305 528h1v5h-1zM306 526h1v5h-1zM307 531h1v6h-1zM308 528h1v5h-1zM309 528h1v1h-1zM310 529h1v8h-1zM311 527h1v5h-1zM312 527h1v5h-1zM313 532h1v5h-1zM314 528h1v5h-1zM315 532h1v5h-1zM316 530h1v4h-1zM317 528h1v5h-1zM318 533h1v4h-1zM319 529h1v4h-1zM320 526h1v4h-1zM321 520h1v6h-1zM322 516h1v4h-1zM323 519h1v10h-1zM324 529h1v8h-1zM325 517h1v13h-1zM326 520h1v6h-1zM327 526h1v4h-1zM328 526h1v2h-1zM329 528h1v5h-1zM330 533h1v4h-1zM331 527h1v6h-1zM332 524h1v5h-1zM333 526h1v2h-1zM334 526h1v5h-1zM335 531h1v6h-1zM336 525h1v6h-1zM337 531h1v6h-1zM338 527h1v6h-1zM339 525h1v7h-1zM340 532h1v5h-1zM341 529h1v4h-1zM342 529h1v4h-1zM343 533h1v4h-1zM344 531h1v3h-1zM345 529h1v2h-1zM346 530h1v7h-1zM347 531h1v3h-1zM348 529h1v2h-1zM349 530h1v4h-1zM350 531h1v6h-1zM351 525h1v6h-1zM352 531h1v6h-1zM353 528h1v5h-1zM354 527h1v10h-1zM355 527h1v1h-1zM356 528h1v2h-1zM357 529h1v4h-1zM358 533h1v4h-1zM359 528h1v5h-1zM360 526h1v2h-1zM361 528h1v9h-1zM362 528h1v5h-1zM363 526h1v2h-1zM364 528h1v2h-1zM365 525h1v3h-1zM366 522h1v3h-1zM367 524h1v3h-1zM368 527h1v4h-1zM369 527h1v2h-1zM370 529h1v4h-1zM371 532h1v5h-1zM372 526h1v6h-1zM373 531h1v6h-1zM374 531h1v3h-1zM375 529h1v5h-1zM376 534h1v3h-1zM377 530h1v4h-1zM378 528h1v2h-1zM379 529h1v4h-1zM380 533h1v4h-1zM381 529h1v4h-1zM382 529h1v8h-1zM383 525h1v6h-1zM384 531h1v6h-1zM385 527h1v6h-1zM386 524h1v3h-1zM387 526h1v3h-1zM388 527h1v2h-1zM389 525h1v2h-1zM390 527h1v10h-1zM391 530h1v4h-1zM392 528h1v2h-1zM393 529h1v4h-1zM394 533h1v4h-1zM395 529h1v5h-1zM396 527h1v2h-1zM397 529h1v8h-1zM398 528h1v5h-1zM399 528h1v1h-1zM400 528h1v1h-1zM401 528h1v1h-1zM402 528h1v2h-1zM403 526h1v2h-1zM404 527h1v3h-1zM405 524h1v3h-1zM406 526h1v3h-1zM407 527h1v2h-1zM408 525h1v2h-1zM409 527h1v5h-1zM410 532h1v5h-1zM411 527h1v10h-1zM412 529h1v5h-1zM413 527h1v2h-1zM414 529h1v2h-1zM415 526h1v3h-1zM416 527h1v2h-1zM417 525h1v2h-1zM418 527h1v5h-1zM419 526h1v11h-1zM420 527h1v2h-1zM421 526h1v2h-1zM422 523h1v3h-1zM423 525h1v3h-1zM424 525h1v2h-1zM425 525h1v2h-1zM426 527h1v5h-1zM427 532h1v5h-1zM428 528h1v5h-1zM429 528h1v2h-1zM430 530h1v2h-1zM431 529h1v2h-1zM432 530h1v2h-1zM433 529h1v4h-1zM434 533h1v4h-1zM435 528h1v5h-1zM436 528h1v2h-1zM437 530h1v2h-1zM438 529h1v2h-1zM439 530h1v2h-1zM440 529h1v3h-1zM441 530h1v4h-1zM442 534h1v3h-1zM443 530h1v4h-1zM444 528h1v2h-1zM445 529h1v4h-1zM446 529h1v8h-1zM447 521h1v8h-1zM448 525h1v5h-1zM449 529h1v1h-1zM450 527h1v2h-1zM451 525h1v2h-1zM452 527h1v5h-1zM453 532h1v5h-1zM454 529h1v4h-1zM455 529h1v1h-1zM456 529h1v4h-1zM457 533h1v4h-1zM458 529h1v4h-1zM459 529h1v4h-1zM460 533h1v4h-1zM461 529h1v5h-1zM462 527h1v6h-1zM463 533h1v4h-1zM464 536h1v1h-1zM465 536h1v1h-1zM466 536h1v1h-1zM467 536h1v1h-1zM468 536h1v1h-1zM469 536h1v1h-1zM470 536h1v1h-1zM471 536h1v1h-1zM472 536h1v1h-1zM473 536h1v1h-1zM474 536h1v1h-1zM475 536h1v1h-1zM476 536h1v1h-1zM477 532h1v5h-1zM478 527h1v5h-1zM479 529h1v4h-1zM480 533h1v4h-1zM481 527h1v6h-1zM482 525h1v2h-1zM483 527h1v2h-1zM484 524h1v13h-1zM485 529h1v4h-1zM486 529h1v1h-1zM487 529h1v1h-1zM488 529h1v4h-1zM489 533h1v4h-1zM490 529h1v4h-1zM491 529h1v8h-1zM492 526h1v6h-1zM493 526h1v5h-1zM494 531h1v6h-1zM495 526h1v6h-1zM496 526h1v5h-1zM497 531h1v6h-1zM498 526h1v6h-1zM499 531h1v6h-1zM500 530h1v4h-1zM501 528h1v2h-1zM502 529h1v2h-1zM503 528h1v2h-1zM504 526h1v2h-1zM505 528h1v9h-1zM506 529h1v5h-1zM507 527h1v2h-1zM508 529h1v4h-1zM509 531h1v6h-1zM510 525h1v6h-1zM511 525h1v2h-1zM512 527h1v3h-1zM513 529h1v8h-1zM514 528h1v5h-1zM515 531h1v6h-1zM516 525h1v6h-1zM517 525h1v1h-1zM518 524h1v3h-1zM519 521h1v3h-1zM520 524h1v4h-1zM521 527h1v1h-1zM522 528h1v2h-1zM523 529h1v4h-1zM524 533h1v4h-1zM525 528h1v5h-1zM526 528h1v1h-1zM527 526h1v4h-1zM528 528h1v5h-1zM529 531h1v6h-1zM530 525h1v6h-1zM531 525h1v6h-1zM532 531h1v6h-1zM533 525h1v6h-1zM534 529h1v8h-1zM535 529h1v1h-1zM536 529h1v2h-1zM537 527h1v2h-1zM538 529h1v4h-1zM539 533h1v4h-1zM540 528h1v5h-1zM541 528h1v9h-1zM542 527h1v6h-1zM543 525h1v2h-1zM544 527h1v5h-1zM545 532h1v5h-1zM546 525h1v7h-1zM547 520h1v5h-1zM548 516h1v4h-1zM549 519h1v13h-1zM550 529h1v2h-1zM551 530h1v2h-1zM552 528h1v2h-1zM553 528h1v1h-1zM554 529h1v4h-1zM555 533h1v4h-1zM556 529h1v5h-1zM557 529h1v3h-1zM558 525h1v4h-1zM559 525h1v6h-1zM560 531h1v6h-1zM561 529h1v4h-1zM562 529h1v4h-1zM563 527h1v10h-1zM564 525h1v6h-1zM565 531h1v6h-1zM566 528h1v5h-1zM567 528h1v1h-1zM568 527h1v2h-1zM569 524h1v3h-1zM570 526h1v11h-1zM571 524h1v7h-1zM572 530h1v7h-1zM573 525h1v6h-1zM574 531h1v6h-1zM575 531h1v3h-1zM576 529h1v2h-1zM577 529h1v3h-1zM578 526h1v5h-1zM579 531h1v6h-1zM580 529h1v4h-1zM581 533h1v4h-1zM582 527h1v6h-1zM583 524h1v3h-1zM584 526h1v3h-1zM585 526h1v4h-1zM586 528h1v5h-1zM587 533h1v4h-1zM588 528h1v5h-1zM589 532h1v5h-1zM590 528h1v5h-1zM591 528h1v1h-1zM592 526h1v4h-1zM593 528h1v5h-1zM594 531h1v6h-1zM595 525h1v6h-1zM596 525h1v6h-1zM597 531h1v6h-1zM598 528h1v5h-1zM599 528h1v9h-1zM600 527h1v6h-1zM601 524h1v3h-1zM602 526h1v3h-1zM603 527h1v5h-1zM604 532h1v5h-1zM605 526h1v6h-1zM606 526h1v1h-1zM607 527h1v5h-1zM608 532h1v5h-1zM609 527h1v6h-1zM610 525h1v2h-1zM611 527h1v2h-1zM612 527h1v1h-1zM613 527h1v2h-1zM614 529h1v3h-1zM615 530h1v2h-1zM616 531h1v1h-1zM617 529h1v2h-1zM618 530h1v4h-1zM619 532h1v5h-1zM620 526h1v6h-1zM621 526h1v11h-1zM622 529h1v4h-1zM623 529h1v1h-1zM624 528h1v2h-1zM625 525h1v3h-1zM626 525h1v2h-1zM627 527h1v3h-1zM628 526h1v7h-1zM629 532h1v5h-1zM630 527h1v5h-1zM631 527h1v5h-1zM632 532h1v5h-1zM633 529h1v5h-1zM634 527h1v2h-1zM635 527h1v4h-1zM636 525h1v2h-1zM637 527h1v2h-1zM638 529h1v1h-1zM639 529h1v4h-1zM640 532h1v5h-1zM641 526h1v6h-1zM642 531h1v6h-1zM643 524h1v9h-1zM644 526h1v6h-1zM645 532h1v5h-1zM646 529h1v4h-1zM647 529h1v4h-1zM648 533h1v4h-1zM649 530h1v4h-1zM650 527h1v4h-1zM651 521h1v6h-1zM652 518h1v3h-1zM653 521h1v4h-1zM654 525h1v3h-1zM655 527h1v5h-1zM656 532h1v5h-1zM657 529h1v4h-1zM658 533h1v4h-1zM659 529h1v5h-1zM660 527h1v2h-1zM661 529h1v2h-1zM662 528h1v4h-1zM663 532h1v5h-1zM664 526h1v11h-1zM665 529h1v4h-1zM666 529h1v1h-1zM667 527h1v2h-1zM668 525h1v2h-1zM669 527h1v5h-1zM670 532h1v5h-1zM671 529h1v4h-1zM672 526h1v5h-1zM673 531h1v6h-1zM674 526h1v6h-1zM675 526h1v5h-1zM676 531h1v6h-1zM677 527h1v5h-1zM678 527h1v5h-1zM679 529h1v8h-1zM680 529h1v1h-1zM681 528h1v4h-1zM682 527h1v10h-1zM683 517h1v10h-1zM684 517h1v6h-1zM685 523h1v9h-1zM686 526h1v11h-1zM687 531h1v6h-1zM688 529h1v4h-1zM689 529h1v1h-1zM690 529h1v1h-1zM691 529h1v4h-1zM692 533h1v4h-1zM693 524h1v9h-1zM694 526h1v6h-1zM695 532h1v5h-1zM696 529h1v4h-1zM697 533h1v4h-1zM698 529h1v4h-1zM699 529h1v1h-1zM700 529h1v8h-1zM701 525h1v6h-1zM702 531h1v6h-1zM703 531h1v3h-1zM704 529h1v2h-1zM705 530h1v4h-1zM706 532h1v5h-1zM707 526h1v6h-1zM708 526h1v1h-1zM709 526h1v1h-1zM710 526h1v1h-1zM711 524h1v3h-1zM712 521h1v3h-1zM713 521h1v8h-1zM714 529h1v8h-1zM715 526h1v6h-1zM716 531h1v6h-1zM717 529h1v4h-1zM718 529h1v1h-1zM719 530h1v2h-1zM720 529h1v2h-1zM721 530h1v4h-1zM722 524h1v13h-1zM723 530h1v7h-1zM724 528h1v5h-1zM725 526h1v2h-1zM726 528h1v5h-1zM727 531h1v6h-1zM728 525h1v6h-1zM729 524h1v13h-1zM730 530h1v7h-1zM731 525h1v6h-1zM732 525h1v6h-1zM733 531h1v6h-1zM734 528h1v5h-1zM735 528h1v4h-1zM736 532h1v5h-1zM737 527h1v5h-1zM738 529h1v4h-1zM739 530h1v7h-1zM740 521h1v9h-1zM741 517h1v4h-1zM742 520h1v10h-1zM743 530h1v7h-1zM744 526h1v6h-1zM745 526h1v5h-1zM746 531h1v6h-1zM747 529h1v4h-1zM748 529h1v1h-1zM749 529h1v4h-1zM750 533h1v4h-1zM751 528h1v5h-1zM752 532h1v5h-1zM753 528h1v5h-1zM754 532h1v5h-1zM755 528h1v5h-1zM756 526h1v2h-1zM757 528h1v2h-1zM758 525h1v4h-1zM759 527h1v5h-1zM760 532h1v5h-1zM761 524h1v8h-1zM762 521h1v3h-1zM763 524h1v7h-1zM764 531h1v6h-1zM765 528h1v5h-1zM766 525h1v4h-1zM767 525h1v3h-1zM768 528h1v3h-1zM769 528h1v2h-1zM770 529h1v4h-1zM771 533h1v4h-1zM772 531h1v3h-1zM773 529h1v3h-1zM774 526h1v3h-1zM775 526h1v5h-1zM776 531h1v6h-1zM777 527h1v6h-1zM778 525h1v2h-1zM779 527h1v5h-1zM780 524h1v13h-1zM781 530h1v7h-1zM782 524h1v8h-1zM783 521h1v3h-1zM784 524h1v3h-1zM785 527h1v2h-1zM786 526h1v2h-1zM787 526h1v11h-1zM788 528h1v5h-1zM789 528h1v4h-1zM790 532h1v5h-1zM791 528h1v5h-1zM792 526h1v2h-1zM793 528h1v2h-1zM794 525h1v4h-1zM795 527h1v5h-1zM796 532h1v5h-1zM797 526h1v6h-1zM798 526h1v2h-1zM799 528h1v3h-1zM800 527h1v2h-1zM801 529h1v2h-1zM802 529h1v4h-1zM803 532h1v5h-1zM804 526h1v6h-1zM805 526h1v1h-1zM806 525h1v6h-1zM807 531h1v6h-1zM808 530h1v4h-1zM809 528h1v3h-1zM810 527h1v3h-1zM811 524h1v3h-1zM812 526h1v6h-1zM813 531h1v6h-1zM814 524h1v7h-1zM815 525h1v4h-1zM816 529h1v3h-1zM817 530h1v4h-1zM818 531h1v6h-1zM819 525h1v6h-1zM820 531h1v6h-1zM821 527h1v5h-1zM822 528h1v2h-1zM823 529h1v8h-1zM824 527h1v5h-1zM825 527h1v5h-1zM826 532h1v5h-1zM827 527h1v6h-1zM828 524h1v3h-1zM829 526h1v6h-1zM830 532h1v5h-1zM831 527h1v5h-1zM832 532h1v5h-1zM833 531h1v3h-1zM834 529h1v2h-1zM835 529h1v3h-1zM836 526h1v3h-1zM837 526h1v5h-1zM838 526h1v11h-1zM839 531h1v6h-1zM840 529h1v5h-1zM841 527h1v2h-1zM842 529h1v4h-1zM843 531h1v6h-1zM844 525h1v6h-1zM845 525h1v12h-1zM846 529h1v5h-1zM847 527h1v2h-1zM848 529h1v2h-1zM849 526h1v5h-1zM850 531h1v6h-1zM851 529h1v4h-1zM852 529h1v2h-1zM853 528h1v2h-1zM854 529h1v4h-1zM855 533h1v4h-1zM856 528h1v5h-1zM857 532h1v5h-1zM858 528h1v5h-1zM859 526h1v2h-1zM860 525h1v5h-1zM861 525h1v6h-1zM862 531h1v6h-1zM863 529h1v4h-1zM864 533h1v4h-1zM865 531h1v3h-1zM866 529h1v2h-1zM867 530h1v7h-1zM868 525h1v6h-1zM869 525h1v2h-1zM870 527h1v3h-1zM871 529h1v1h-1zM872 528h1v2h-1zM873 526h1v2h-1zM874 528h1v9h-1zM875 527h1v6h-1zM876 524h1v3h-1zM877 526h1v3h-1zM878 529h1v1h-1zM879 529h1v4h-1zM880 532h1v5h-1zM881 526h1v11h-1zM882 529h1v4h-1zM883 529h1v1h-1zM884 528h1v1h-1zM885 528h1v1h-1zM886 527h1v2h-1zM887 524h1v3h-1zM888 526h1v3h-1zM889 529h1v2h-1zM890 527h1v2h-1zM891 529h1v4h-1zM892 529h1v8h-1zM893 521h1v8h-1zM894 521h1v3h-1zM895 524h1v4h-1zM896 526h1v2h-1zM897 524h1v6h-1zM898 530h1v7h-1zM899 528h1v5h-1zM900 528h1v4h-1zM901 532h1v5h-1zM902 527h1v6h-1zM903 525h1v4h-1zM904 525h1v3h-1zM905 522h1v3h-1zM906 524h1v3h-1zM907 527h1v2h-1zM908 524h1v3h-1zM909 526h1v3h-1zM910 529h1v4h-1zM911 533h1v4h-1zM912 529h1v4h-1zM913 532h1v5h-1zM914 526h1v6h-1zM915 526h1v5h-1zM916 531h1v6h-1zM917 529h1v8h-1zM918 521h1v8h-1zM919 523h1v4h-1zM920 527h1v5h-1zM921 532h1v5h-1zM922 526h1v6h-1zM923 522h1v5h-1zM924 517h1v5h-1zM925 521h1v10h-1zM926 531h1v6h-1zM927 531h1v3h-1zM928 529h1v2h-1zM929 530h1v4h-1zM930 533h1v4h-1zM931 527h1v6h-1zM932 524h1v8h-1zM933 531h1v6h-1zM934 525h1v6h-1zM935 531h1v6h-1zM936 528h1v5h-1zM937 531h1v6h-1zM938 525h1v6h-1zM939 525h1v12h-1zM940 527h1v6h-1zM941 524h1v3h-1zM942 526h1v3h-1zM943 525h1v6h-1zM944 531h1v6h-1zM945 526h1v6h-1zM946 524h1v13h-1zM947 529h1v4h-1zM948 528h1v2h-1zM949 526h1v2h-1zM950 526h1v5h-1zM951 531h1v6h-1zM952 525h1v6h-1zM953 525h1v6h-1zM954 528h1v2h-1zM955 529h1v4h-1zM956 531h1v6h-1zM957 524h1v7h-1zM958 530h1v7h-1zM959 528h1v5h-1zM960 528h1v1h-1zM961 525h1v4h-1zM962 527h1v5h-1zM963 532h1v5h-1zM964 526h1v6h-1zM965 526h1v1h-1zM966 525h1v6h-1zM967 531h1v6h-1zM968 529h1v4h-1zM969 533h1v4h-1zM970 529h1v4h-1zM971 529h1v4h-1zM972 531h1v6h-1zM973 524h1v7h-1zM974 525h1v2h-1zM975 525h1v4h-1zM976 527h1v2h-1zM977 528h1v2h-1zM978 526h1v2h-1zM979 528h1v2h-1zM980 526h1v2h-1zM981 526h1v5h-1zM982 529h1v8h-1zM983 532h1v5h-1zM984 527h1v5h-1zM985 532h1v5h-1zM986 527h1v5h-1zM987 524h1v4h-1zM988 520h1v4h-1zM989 520h1v8h-1zM990 521h1v16h-1zM991 523h1v7h-1zM992 530h1v7h-1zM993 525h1v6h-1zM994 531h1v6h-1zM995 529h1v4h-1zM996 529h1v4h-1zM997 529h1v8h-1zM998 529h1v4h-1zM999 531h1v6h-1zM1000 525h1v6h-1zM1001 531h1v6h-1zM1002 530h1v4h-1zM1003 528h1v2h-1zM1004 529h1v8h-1zM1005 527h1v5h-1zM1006 527h1v5h-1zM1007 530h1v7h-1zM1008 523h1v7h-1zM1009 523h1v2h-1zM1010 525h1v2h-1zM1011 527h1v5h-1zM1012 532h1v5h-1zM1013 530h1v4h-1zM1014 528h1v2h-1zM1015 529h1v4h-1zM1016 533h1v4h-1zM1017 527h1v6h-1zM1018 525h1v2h-1zM1019 527h1v2h-1zM1020 527h1v1h-1zM1021 528h1v5h-1zM1022 532h1v5h-1zM1023 526h1v6h-1zM1024 531h1v6h-1zM1025 527h1v6h-1zM1026 525h1v4h-1zM1027 525h1v6h-1zM1028 531h1v6h-1zM1029 530h1v4h-1zM1030 528h1v2h-1zM1031 529h1v4h-1zM1032 533h1v4h-1zM1033 529h1v4h-1zM1034 533h1v4h-1zM1035 527h1v6h-1zM1036 525h1v2h-1zM1037 527h1v2h-1zM1038 526h1v2h-1zM1039 526h1v5h-1zM1040 525h1v12h-1zM1041 525h1v3h-1zM1042 528h1v3h-1zM1043 527h1v2h-1zM1044 529h1v4h-1zM1045 533h1v4h-1zM1046 528h1v5h-1zM1047 526h1v7h-1zM1048 533h1v4h-1zM1049 528h1v5h-1zM1050 528h1v4h-1zM1051 532h1v5h-1zM1052 528h1v5h-1zM1053 528h1v2h-1zM1054 526h1v2h-1zM1055 525h1v5h-1zM1056 525h1v3h-1zM1057 528h1v3h-1zM1058 528h1v2h-1zM1059 529h1v4h-1zM1060 532h1v5h-1zM1061 527h1v5h-1zM1062 526h1v11h-1zM1063 531h1v6h-1zM1064 527h1v5h-1zM1065 527h1v5h-1zM1066 531h1v6h-1zM1067 525h1v6h-1zM1068 525h1v1h-1zM1069 526h1v11h-1zM1070 529h1v5h-1zM1071 527h1v2h-1zM1072 528h1v3h-1zM1073 525h1v3h-1zM1074 525h1v6h-1zM1075 531h1v6h-1zM1076 526h1v7h-1zM1077 528h1v5h-1zM1078 532h1v5h-1zM1079 526h1v6h-1zM1080 526h1v2h-1zM1081 528h1v2h-1zM1082 529h1v1h-1zM1083 527h1v5h-1zM1084 526h1v11h-1zM1085 526h1v5h-1zM1086 531h1v6h-1zM1087 527h1v5h-1zM1088 528h1v1h-1zM1089 528h1v4h-1zM1090 531h1v6h-1zM1091 524h1v13h-1zM1092 528h1v5h-1zM1093 528h1v1h-1zM1094 528h1v1h-1zM1095 528h1v2h-1zM1096 526h1v2h-1zM1097 528h1v5h-1zM1098 529h1v8h-1zM1099 529h1v4h-1zM1100 532h1v5h-1zM1101 526h1v6h-1zM1102 527h1v2h-1zM1103 528h1v4h-1zM1104 532h1v5h-1zM1105 529h1v8h-1zM1106 529h1v4h-1zM1107 529h1v1h-1zM1108 530h1v2h-1zM1109 529h1v2h-1zM1110 530h1v4h-1zM1111 532h1v5h-1zM1112 526h1v6h-1zM1113 526h1v11h-1zM1114 527h1v6h-1zM1115 525h1v2h-1zM1116 527h1v5h-1zM1117 532h1v5h-1zM1118 529h1v4h-1zM1119 533h1v4h-1zM1120 528h1v6h-1zM1121 529h1v4h-1zM1122 533h1v4h-1zM1123 527h1v6h-1zM1124 525h1v2h-1zM1125 525h1v6h-1zM1126 531h1v6h-1zM1127 527h1v5h-1zM1128 532h1v5h-1zM1129 526h1v6h-1zM1130 526h1v1h-1zM1131 527h1v2h-1zM1132 527h1v2h-1zM1133 524h1v3h-1zM1134 523h1v5h-1zM1135 525h1v7h-1zM1136 532h1v5h-1zM1137 528h1v5h-1zM1138 526h1v2h-1zM1139 528h1v5h-1zM1140 532h1v5h-1zM1141 526h1v6h-1zM1142 531h1v6h-1zM1143 528h1v5h-1zM1144 528h1v4h-1zM1145 531h1v6h-1zM1146 525h1v6h-1zM1147 525h1v6h-1zM1148 531h1v6h-1zM1149 528h1v5h-1zM1150 532h1v5h-1zM1151 530h1v4h-1zM1152 528h1v2h-1zM1153 529h1v2h-1zM1154 528h1v2h-1zM1155 526h1v2h-1zM1156 527h1v3h-1zM1157 527h1v2h-1zM1158 525h1v2h-1zM1159 527h1v5h-1zM1160 532h1v5h-1zM1161 528h1v5h-1zM1162 532h1v5h-1zM1163 529h1v4h-1zM1164 533h1v4h-1zM1165 527h1v6h-1zM1166 524h1v3h-1zM1167 526h1v6h-1zM1168 531h1v6h-1zM1169 524h1v7h-1zM1170 527h1v3h-1zM1171 524h1v3h-1zM1172 526h1v4h-1zM1173 530h1v2h-1zM1174 529h1v2h-1zM1175 530h1v4h-1zM1176 533h1v4h-1zM1177 529h1v4h-1zM1178 529h1v8h-1zM1179 525h1v6h-1zM1180 525h1v1h-1zM1181 526h1v1h-1zM1182 525h1v2h-1zM1183 521h1v4h-1zM1184 518h1v3h-1zM1185 521h1v9h-1zM1186 528h1v2h-1zM1187 526h1v2h-1zM1188 526h1v5h-1zM1189 531h1v6h-1zM1190 529h1v4h-1zM1191 528h1v2h-1zM1192 525h1v12h-1zM1193 528h1v5h-1zM1194 528h1v1h-1zM1195 529h1v1h-1zM1196 529h1v4h-1zM1197 533h1v4h-1zM1198 529h1v4h-1zM1199 527h1v4h-1zM1200 529h1v2h-1zM1201 528h1v4h-1zM1202 532h1v5h-1zM1203 536h1v1h-1zM1204 536h1v1h-1zM1205 536h1v1h-1zM1206 536h1v1h-1zM1207 536h1v1h-1zM1208 534h1v3h-1zM1209 530h1v4h-1zM1210 528h1v2h-1zM1211 529h1v4h-1zM1212 532h1v5h-1zM1213 526h1v6h-1zM1214 526h1v11h-1zM1215 527h1v5h-1zM1216 531h1v6h-1zM1217 524h1v7h-1zM1218 527h1v4h-1zM1219 528h1v2h-1zM1220 529h1v2h-1zM1221 528h1v2h-1zM1222 527h1v5h-1zM1223 532h1v5h-1zM1224 528h1v5h-1zM1225 532h1v5h-1zM1226 526h1v6h-1zM1227 526h1v1h-1zM1228 525h1v6h-1zM1229 531h1v6h-1zM1230 527h1v6h-1zM1231 525h1v2h-1zM1232 524h1v5h-1zM1233 518h1v6h-1zM1234 518h1v9h-1zM1235 525h1v12h-1zM1236 527h1v3h-1zM1237 529h1v4h-1zM1238 533h1v4h-1zM1239 527h1v6h-1zM1240 525h1v2h-1zM1241 527h1v5h-1zM1242 532h1v5h-1zM1243 527h1v7h-1zM1244 529h1v4h-1zM1245 532h1v5h-1zM1246 527h1v5h-1zM1247 532h1v5h-1zM1248 528h1v5h-1zM1249 528h1v1h-1zM1250 524h1v5h-1zM1251 526h1v6h-1zM1252 532h1v5h-1zM1253 526h1v6h-1zM1254 528h1v2h-1zM1255 528h1v2h-1zM1256 525h1v3h-1zM1257 526h1v11h-1zM1258 528h1v5h-1zM1259 528h1v4h-1zM1260 530h1v7h-1zM1261 522h1v8h-1zM1262 522h1v7h-1zM1263 529h1v8h-1zM1264 529h1v4h-1zM1265 527h1v5h-1zM1266 532h1v5h-1zM1267 529h1v4h-1zM1268 533h1v4h-1zM1269 529h1v4h-1zM1270 533h1v4h-1zM1271 528h1v5h-1zM1272 526h1v7h-1zM1273 531h1v6h-1zM1274 525h1v6h-1zM1275 527h1v2h-1zM1276 524h1v3h-1zM1277 526h1v6h-1zM1278 532h1v5h-1zM1279 527h1v5h-1zM1280 532h1v5h-1zM1281 528h1v5h-1zM1282 526h1v2h-1zM1283 528h1v5h-1zM1284 531h1v6h-1zM1285 525h1v6h-1zM1286 527h1v10h-1zM1287 527h1v5h-1zM1288 532h1v5h-1zM1289 529h1v4h-1zM1290 529h1v1h-1zM1291 528h1v1h-1zM1292 528h1v4h-1zM1293 525h1v12h-1zM1294 525h1v6h-1zM1295 531h1v6h-1zM1296 529h1v4h-1zM1297 527h1v3h-1zM1298 524h1v3h-1zM1299 525h1v2h-1zM1300 526h1v11h-1zM1301 531h1v3h-1zM1302 529h1v2h-1zM1303 530h1v4h-1zM1304 533h1v4h-1zM1305 528h1v5h-1zM1306 528h1v1h-1zM1307 526h1v5h-1zM1308 524h1v13h-1zM1309 526h1v2h-1zM1310 527h1v1h-1zM1311 526h1v5h-1zM1312 530h1v7h-1zM1313 523h1v7h-1zM1314 530h1v7h-1zM1315 527h1v10h-1zM1316 522h1v8h-1zM1317 522h1v2h-1zM1318 524h1v3h-1zM1319 526h1v1h-1zM1320 526h1v1h-1zM1321 526h1v5h-1zM1322 524h1v13h-1zM1323 530h1v7h-1zM1324 524h1v7h-1zM1325 530h1v7h-1zM1326 527h1v5h-1zM1327 527h1v1h-1zM1328 525h1v2h-1zM1329 525h1v12h-1zM1330 530h1v4h-1zM1331 528h1v2h-1zM1332 529h1v2h-1zM1333 528h1v4h-1zM1334 532h1v5h-1zM1335 529h1v4h-1zM1336 529h1v1h-1zM1337 527h1v4h-1zM1338 529h1v4h-1zM1339 533h1v4h-1zM1340 528h1v5h-1zM1341 527h1v2h-1zM1342 524h1v3h-1zM1343 526h1v6h-1zM1344 526h1v11h-1zM1345 527h1v2h-1zM1346 528h1v4h-1zM1347 532h1v5h-1zM1348 527h1v5h-1zM1349 527h1v5h-1zM1350 532h1v5h-1zM1351 529h1v8h-1zM1352 526h1v6h-1zM1353 531h1v6h-1zM1354 527h1v5h-1zM1355 532h1v5h-1zM1356 526h1v6h-1zM1357 523h1v3h-1zM1358 525h1v12h-1zM1359 527h1v5h-1zM1360 527h1v1h-1zM1361 525h1v6h-1zM1362 531h1v6h-1zM1363 528h1v5h-1zM1364 528h1v4h-1zM1365 532h1v5h-1zM1366 529h1v4h-1z" fill="#0080ff"/>
<path d="M97 512h1v1h-1zM98 509h1v7h-1zM99 508h1v2h-1zM99 515h1v2h-1zM100 507h1v2h-1zM100 516h1v2h-1zM101 507h1v1h-1zM101 517h1v1h-1zM102 507h1v1h-1zM102 517h1v1h-1zM103 506h1v2h-1zM103 517h1v2h-1zM104 507h1v1h-1zM104 517h1v1h-1zM105 507h1v1h-1zM105 517h1v1h-1zM106 507h1v2h-1zM106 516h1v2h-1zM107 508h1v2h-1zM107 515h1v2h-1zM108 509h1v7h-1zM109 512h1v1h-1zM143 502h1v1h-1zM144 499h1v7h-1zM145 498h1v2h-1zM145 505h1v2h-1zM146 497h1v2h-1zM146 506h1v2h-1zM147 497h1v1h-1zM147 507h1v1h-1zM148 497h1v1h-1zM148 507h1v1h-1zM149 496h1v2h-1zM149 507h1v2h-1zM150 497h1v1h-1zM150 507h1v1h-1zM151 497h1v1h-1zM151 507h1v1h-1zM152 497h1v2h-1zM152 506h1v2h-1zM153 498h1v2h-1zM153 505h1v2h-1zM154 499h1v7h-1zM155 502h1v1h-1zM202 508h1v1h-1zM203 505h1v7h-1zM204 504h1v2h-1zM204 511h1v2h-1zM205 503h1v2h-1zM205 512h1v2h-1zM206 503h1v1h-1zM206 513h1v1h-1zM207 503h1v1h-1zM207 513h1v1h-1zM208 502h1v2h-1zM208 513h1v2h-1zM209 503h1v1h-1zM209 513h1v1h-1zM210 503h1v1h-1zM210 513h1v1h-1zM211 503h1v2h-1zM211 512h1v2h-1zM212 504h1v2h-1zM212 511h1v2h-1zM213 505h1v7h-1zM214 508h1v1h-1zM249 511h1v1h-1zM250 508h1v7h-1zM251 507h1v2h-1zM251 514h1v2h-1zM252 506h1v2h-1zM252 515h1v2h-1zM253 506h1v1h-1zM253 516h1v1h-1zM254 506h1v1h-1zM254 516h1v1h-1zM255 505h1v2h-1zM255 511h1v1h-1zM255 516h1v2h-1zM256 506h1v1h-1zM256 508h1v7h-1zM256 516h1v1h-1zM257 506h1v3h-1zM257 514h1v3h-1zM258 506h1v2h-1zM258 515h1v2h-1zM259 506h1v3h-1zM259 514h1v3h-1zM260 506h1v1h-1zM260 508h1v7h-1zM260 516h1v1h-1zM261 505h1v2h-1zM261 511h1v1h-1zM261 516h1v2h-1zM262 506h1v1h-1zM262 516h1v1h-1zM263 506h1v1h-1zM263 516h1v1h-1zM264 506h1v2h-1zM264 515h1v2h-1zM265 507h1v2h-1zM265 514h1v2h-1zM266 508h1v7h-1zM267 511h1v1h-1zM301 508h1v1h-1zM302 505h1v7h-1zM303 504h1v2h-1zM303 511h1v2h-1zM304 503h1v2h-1zM304 512h1v2h-1zM305 503h1v1h-1zM305 513h1v1h-1zM306 503h1v1h-1zM306 513h1v1h-1zM307 502h1v2h-1zM307 513h1v2h-1zM308 503h1v1h-1zM308 513h1v1h-1zM309 503h1v1h-1zM309 510h1v7h-1zM310 503h1v2h-1zM310 509h1v2h-1zM310 512h1v2h-1zM310 516h1v2h-1zM311 504h1v2h-1zM311 508h1v2h-1zM311 511h1v2h-1zM311 517h1v2h-1zM312 505h1v7h-1zM312 518h1v1h-1zM313 508h1v1h-1zM313 518h1v1h-1zM314 507h1v2h-1zM314 518h1v2h-1zM315 508h1v1h-1zM315 518h1v1h-1zM316 508h1v1h-1zM316 518h1v1h-1zM317 508h1v2h-1zM317 517h1v2h-1zM318 509h1v2h-1zM318 516h1v2h-1zM319 510h1v7h-1zM320 513h1v1h-1zM354 508h1v1h-1zM355 505h1v7h-1zM356 504h1v2h-1zM356 511h1v2h-1zM357 503h1v2h-1zM357 512h1v2h-1zM358 503h1v1h-1zM358 513h1v1h-1zM359 503h1v1h-1zM359 513h1v1h-1zM360 502h1v2h-1zM360 513h1v3h-1zM361 503h1v1h-1zM361 512h1v7h-1zM362 503h1v1h-1zM362 511h1v3h-1zM362 518h1v2h-1zM363 503h1v2h-1zM363 510h1v4h-1zM363 519h1v2h-1zM364 504h1v2h-1zM364 510h1v3h-1zM364 520h1v1h-1zM365 505h1v7h-1zM365 520h1v1h-1zM366 508h1v3h-1zM366 520h1v2h-1zM367 510h1v1h-1zM367 520h1v1h-1zM368 510h1v1h-1zM368 520h1v1h-1zM369 510h1v2h-1zM369 519h1v2h-1zM370 511h1v2h-1zM370 518h1v2h-1zM371 512h1v7h-1zM372 515h1v1h-1zM407 513h1v1h-1zM408 510h1v7h-1zM409 509h1v2h-1zM409 516h1v2h-1zM410 508h1v2h-1zM410 517h1v2h-1zM411 508h1v1h-1zM411 518h1v1h-1zM412 508h1v1h-1zM412 518h1v1h-1zM413 507h1v2h-1zM413 511h1v1h-1zM413 518h1v2h-1zM414 508h1v7h-1zM414 518h1v1h-1zM415 507h1v2h-1zM415 514h1v2h-1zM415 518h1v1h-1zM416 506h1v4h-1zM416 515h1v4h-1zM417 506h1v1h-1zM417 509h1v2h-1zM417 516h1v2h-1zM418 506h1v1h-1zM418 510h1v7h-1zM419 505h1v2h-1zM419 513h1v1h-1zM419 516h1v2h-1zM420 506h1v1h-1zM420 516h1v1h-1zM421 506h1v1h-1zM421 516h1v1h-1zM422 506h1v2h-1zM422 515h1v2h-1zM423 507h1v2h-1zM423 514h1v2h-1zM424 508h1v7h-1zM425 511h1v1h-1zM460 510h1v1h-1zM461 507h1v7h-1zM462 506h1v2h-1zM462 513h1v2h-1zM463 505h1v2h-1zM463 514h1v2h-1zM464 505h1v1h-1zM464 515h1v1h-1zM465 505h1v1h-1zM465 515h1v1h-1zM466 504h1v2h-1zM466 511h1v1h-1zM466 515h1v2h-1zM467 505h1v1h-1zM467 508h1v8h-1zM468 505h1v1h-1zM468 507h1v2h-1zM468 514h1v2h-1zM469 505h1v3h-1zM469 514h1v3h-1zM470 506h1v2h-1zM470 513h1v2h-1zM470 516h1v1h-1zM471 506h1v8h-1zM471 516h1v1h-1zM472 505h1v2h-1zM472 510h1v1h-1zM472 516h1v2h-1zM473 506h1v1h-1zM473 516h1v1h-1zM474 506h1v1h-1zM474 516h1v1h-1zM475 506h1v2h-1zM475 515h1v2h-1zM476 507h1v2h-1zM476 514h1v2h-1zM477 508h1v7h-1zM478 511h1v1h-1zM512 506h1v1h-1zM513 503h1v7h-1zM514 502h1v2h-1zM514 509h1v2h-1zM515 501h1v2h-1zM515 510h1v2h-1zM516 501h1v1h-1zM516 511h1v1h-1zM517 501h1v1h-1zM517 511h1v1h-1zM518 500h1v2h-1zM518 511h1v3h-1zM519 501h1v1h-1zM519 510h1v7h-1zM520 501h1v1h-1zM520 509h1v3h-1zM520 516h1v2h-1zM521 501h1v2h-1zM521 508h1v4h-1zM521 517h1v2h-1zM522 502h1v2h-1zM522 508h1v3h-1zM522 518h1v1h-1zM523 503h1v7h-1zM523 518h1v1h-1zM524 506h1v3h-1zM524 518h1v2h-1zM525 508h1v1h-1zM525 518h1v1h-1zM526 508h1v1h-1zM526 518h1v1h-1zM527 508h1v2h-1zM527 517h1v2h-1zM528 509h1v2h-1zM528 516h1v2h-1zM529 510h1v7h-1zM530 513h1v1h-1zM565 505h1v1h-1zM566 502h1v7h-1zM567 501h1v2h-1zM567 508h1v2h-1zM568 500h1v2h-1zM568 509h1v2h-1zM569 500h1v1h-1zM569 510h1v1h-1zM570 500h1v1h-1zM570 510h1v1h-1zM571 499h1v2h-1zM571 510h1v2h-1zM571 513h1v1h-1zM572 500h1v1h-1zM572 510h1v7h-1zM573 500h1v1h-1zM573 509h1v2h-1zM573 516h1v2h-1zM574 500h1v2h-1zM574 508h1v3h-1zM574 517h1v2h-1zM575 501h1v2h-1zM575 508h1v2h-1zM575 518h1v1h-1zM576 502h1v7h-1zM576 518h1v1h-1zM577 505h1v1h-1zM577 507h1v2h-1zM577 518h1v2h-1zM578 508h1v1h-1zM578 518h1v1h-1zM579 508h1v1h-1zM579 518h1v1h-1zM580 508h1v2h-1zM580 517h1v2h-1zM581 509h1v2h-1zM581 516h1v2h-1zM582 510h1v7h-1zM583 513h1v1h-1zM618 497h1v1h-1zM619 494h1v7h-1zM620 493h1v2h-1zM620 500h1v2h-1zM621 492h1v2h-1zM621 501h1v2h-1zM622 492h1v1h-1zM622 502h1v1h-1zM623 492h1v1h-1zM623 502h1v1h-1zM624 491h1v2h-1zM624 495h1v1h-1zM624 502h1v2h-1zM625 492h1v7h-1zM625 502h1v1h-1zM626 491h1v2h-1zM626 498h1v2h-1zM626 502h1v1h-1zM627 490h1v4h-1zM627 499h1v4h-1zM628 490h1v1h-1zM628 493h1v2h-1zM628 500h1v2h-1zM629 490h1v1h-1zM629 494h1v7h-1zM630 489h1v2h-1zM630 497h1v1h-1zM630 500h1v2h-1zM631 490h1v1h-1zM631 500h1v1h-1zM632 490h1v1h-1zM632 500h1v1h-1zM633 490h1v2h-1zM633 499h1v2h-1zM634 491h1v2h-1zM634 498h1v2h-1zM635 492h1v7h-1zM636 495h1v1h-1zM670 497h1v1h-1zM671 494h1v7h-1zM672 493h1v2h-1zM672 500h1v2h-1zM673 492h1v2h-1zM673 501h1v2h-1zM674 492h1v1h-1zM674 502h1v1h-1zM675 492h1v1h-1zM675 502h1v1h-1zM676 491h1v2h-1zM676 502h1v2h-1zM677 492h1v1h-1zM677 499h1v1h-1zM677 502h1v1h-1zM678 492h1v1h-1zM678 496h1v7h-1zM679 492h1v2h-1zM679 495h1v2h-1zM679 501h1v3h-1zM680 493h1v3h-1zM680 500h1v2h-1zM680 503h1v2h-1zM681 494h1v7h-1zM681 504h1v1h-1zM682 494h1v1h-1zM682 497h1v1h-1zM682 504h1v1h-1zM683 493h1v2h-1zM683 504h1v2h-1zM684 494h1v1h-1zM684 504h1v1h-1zM685 494h1v1h-1zM685 504h1v1h-1zM686 494h1v2h-1zM686 503h1v2h-1zM687 495h1v2h-1zM687 502h1v2h-1zM688 496h1v7h-1zM689 499h1v1h-1zM723 493h1v1h-1zM724 490h1v7h-1zM725 489h1v2h-1zM725 496h1v2h-1zM726 488h1v2h-1zM726 497h1v2h-1zM727 488h1v1h-1zM727 498h1v1h-1zM728 488h1v1h-1zM728 498h1v1h-1zM729 487h1v2h-1zM729 497h1v3h-1zM730 488h1v1h-1zM730 494h1v7h-1zM731 488h1v1h-1zM731 493h1v2h-1zM731 498h1v1h-1zM731 500h1v2h-1zM732 488h1v2h-1zM732 492h1v2h-1zM732 497h1v2h-1zM732 501h1v2h-1zM733 489h1v2h-1zM733 492h1v1h-1zM733 496h1v2h-1zM733 502h1v1h-1zM734 490h1v7h-1zM734 502h1v1h-1zM735 491h1v3h-1zM735 502h1v2h-1zM736 492h1v1h-1zM736 502h1v1h-1zM737 492h1v1h-1zM737 502h1v1h-1zM738 492h1v2h-1zM738 501h1v2h-1zM739 493h1v2h-1zM739 500h1v2h-1zM740 494h1v7h-1zM741 497h1v1h-1zM776 486h1v1h-1zM777 483h1v7h-1zM778 482h1v2h-1zM778 489h1v2h-1zM779 481h1v2h-1zM779 490h1v2h-1zM780 481h1v1h-1zM780 491h1v1h-1zM781 481h1v1h-1zM781 491h1v1h-1zM782 480h1v2h-1zM782 488h1v1h-1zM782 491h1v2h-1zM783 481h1v1h-1zM783 485h1v7h-1zM784 481h1v1h-1zM784 484h1v2h-1zM784 491h1v2h-1zM785 481h1v4h-1zM785 490h1v4h-1zM786 482h1v2h-1zM786 489h1v2h-1zM786 493h1v1h-1zM787 483h1v7h-1zM787 493h1v1h-1zM788 482h1v2h-1zM788 486h1v1h-1zM788 493h1v2h-1zM789 483h1v1h-1zM789 493h1v1h-1zM790 483h1v1h-1zM790 493h1v1h-1zM791 483h1v2h-1zM791 492h1v2h-1zM792 484h1v2h-1zM792 491h1v2h-1zM793 485h1v7h-1zM794 488h1v1h-1zM829 485h1v1h-1zM830 482h1v7h-1zM831 481h1v2h-1zM831 488h1v2h-1zM832 480h1v2h-1zM832 489h1v2h-1zM833 480h1v1h-1zM833 490h1v1h-1zM834 480h1v1h-1zM834 490h1v1h-1zM835 479h1v2h-1zM835 485h1v1h-1zM835 490h1v2h-1zM836 480h1v1h-1zM836 482h1v7h-1zM836 490h1v1h-1zM837 480h1v3h-1zM837 488h1v3h-1zM838 480h1v2h-1zM838 489h1v2h-1zM839 480h1v3h-1zM839 488h1v3h-1zM840 480h1v1h-1zM840 482h1v7h-1zM840 490h1v1h-1zM841 479h1v2h-1zM841 485h1v1h-1zM841 490h1v2h-1zM842 480h1v1h-1zM842 490h1v1h-1zM843 480h1v1h-1zM843 490h1v1h-1zM844 480h1v2h-1zM844 489h1v2h-1zM845 481h1v2h-1zM845 488h1v2h-1zM846 482h1v7h-1zM847 485h1v1h-1zM881 491h1v1h-1zM882 488h1v7h-1zM883 487h1v2h-1zM883 494h1v2h-1zM884 486h1v2h-1zM884 495h1v2h-1zM885 486h1v1h-1zM885 496h1v1h-1zM886 486h1v1h-1zM886 496h1v1h-1zM887 483h1v1h-1zM887 485h1v2h-1zM887 496h1v2h-1zM888 480h1v7h-1zM888 496h1v1h-1zM889 479h1v2h-1zM889 486h1v2h-1zM889 496h1v1h-1zM890 478h1v2h-1zM890 486h1v3h-1zM890 495h1v2h-1zM891 478h1v1h-1zM891 487h1v2h-1zM891 494h1v2h-1zM892 478h1v1h-1zM892 488h1v7h-1zM893 477h1v2h-1zM893 488h1v2h-1zM893 491h1v1h-1zM894 478h1v1h-1zM894 488h1v1h-1zM895 478h1v1h-1zM895 488h1v1h-1zM896 478h1v2h-1zM896 487h1v2h-1zM897 479h1v2h-1zM897 486h1v2h-1zM898 480h1v7h-1zM899 483h1v1h-1zM934 476h1v1h-1zM935 473h1v7h-1zM936 472h1v2h-1zM936 479h1v2h-1zM937 471h1v2h-1zM937 480h1v2h-1zM938 471h1v1h-1zM938 481h1v1h-1zM939 471h1v1h-1zM939 481h1v1h-1zM940 470h1v2h-1zM940 481h1v2h-1zM940 488h1v1h-1zM941 471h1v1h-1zM941 481h1v1h-1zM941 485h1v7h-1zM942 471h1v1h-1zM942 481h1v1h-1zM942 484h1v2h-1zM942 491h1v2h-1zM943 471h1v2h-1zM943 480h1v2h-1zM943 483h1v2h-1zM943 492h1v2h-1zM944 472h1v2h-1zM944 479h1v2h-1zM944 483h1v1h-1zM944 493h1v1h-1zM945 473h1v7h-1zM945 483h1v1h-1zM945 493h1v1h-1zM946 476h1v1h-1zM946 482h1v2h-1zM946 493h1v2h-1zM947 483h1v1h-1zM947 493h1v1h-1zM948 483h1v1h-1zM948 493h1v1h-1zM949 483h1v2h-1zM949 492h1v2h-1zM950 484h1v2h-1zM950 491h1v2h-1zM951 485h1v7h-1zM952 488h1v1h-1zM987 479h1v1h-1zM988 476h1v7h-1zM989 475h1v2h-1zM989 482h1v2h-1zM990 474h1v2h-1zM990 483h1v2h-1zM991 474h1v1h-1zM991 484h1v1h-1zM992 474h1v1h-1zM992 484h1v1h-1zM993 473h1v2h-1zM993 484h1v2h-1zM994 474h1v1h-1zM994 482h1v7h-1zM995 474h1v1h-1zM995 481h1v2h-1zM995 484h1v1h-1zM995 488h1v2h-1zM996 474h1v2h-1zM996 480h1v2h-1zM996 483h1v2h-1zM996 489h1v2h-1zM997 475h1v2h-1zM997 480h1v1h-1zM997 482h1v2h-1zM997 490h1v1h-1zM998 476h1v7h-1zM998 490h1v1h-1zM999 479h1v2h-1zM999 490h1v2h-1zM1000 480h1v1h-1zM1000 490h1v1h-1zM1001 480h1v1h-1zM1001 490h1v1h-1zM1002 480h1v2h-1zM1002 489h1v2h-1zM1003 481h1v2h-1zM1003 488h1v2h-1zM1004 482h1v7h-1zM1005 485h1v1h-1zM1039 486h1v1h-1zM1040 483h1v7h-1zM1041 482h1v2h-1zM1041 489h1v2h-1zM1042 481h1v2h-1zM1042 490h1v2h-1zM1043 481h1v1h-1zM1043 491h1v1h-1zM1044 481h1v1h-1zM1044 491h1v1h-1zM1045 480h1v2h-1zM1045 491h1v2h-1zM1046 481h1v1h-1zM1046 487h1v1h-1zM1046 491h1v1h-1zM1047 481h1v1h-1zM1047 484h1v8h-1zM1048 481h1v4h-1zM1048 490h1v2h-1zM1049 482h1v2h-1zM1049 489h1v4h-1zM1050 482h1v8h-1zM1050 492h1v1h-1zM1051 482h1v1h-1zM1051 486h1v1h-1zM1051 492h1v1h-1zM1052 481h1v2h-1zM1052 492h1v2h-1zM1053 482h1v1h-1zM1053 492h1v1h-1zM1054 482h1v1h-1zM1054 492h1v1h-1zM1055 482h1v2h-1zM1055 491h1v2h-1zM1056 483h1v2h-1zM1056 490h1v2h-1zM1057 484h1v7h-1zM1058 487h1v1h-1zM1092 494h1v1h-1zM1093 491h1v7h-1zM1094 490h1v2h-1zM1094 497h1v2h-1zM1095 489h1v2h-1zM1095 498h1v2h-1zM1096 489h1v1h-1zM1096 499h1v1h-1zM1097 489h1v1h-1zM1097 499h1v1h-1zM1098 484h1v1h-1zM1098 488h1v2h-1zM1098 499h1v2h-1zM1099 481h1v7h-1zM1099 489h1v1h-1zM1099 499h1v1h-1zM1100 480h1v2h-1zM1100 487h1v3h-1zM1100 499h1v1h-1zM1101 479h1v2h-1zM1101 488h1v3h-1zM1101 498h1v2h-1zM1102 479h1v1h-1zM1102 489h1v3h-1zM1102 497h1v2h-1zM1103 479h1v1h-1zM1103 489h1v1h-1zM1103 491h1v7h-1zM1104 478h1v2h-1zM1104 489h1v2h-1zM1104 494h1v1h-1zM1105 479h1v1h-1zM1105 489h1v1h-1zM1106 479h1v1h-1zM1106 489h1v1h-1zM1107 479h1v2h-1zM1107 488h1v2h-1zM1108 480h1v2h-1zM1108 487h1v2h-1zM1109 481h1v7h-1zM1110 484h1v1h-1zM1145 472h1v1h-1zM1146 469h1v7h-1zM1147 468h1v2h-1zM1147 475h1v2h-1zM1148 467h1v2h-1zM1148 476h1v2h-1zM1149 467h1v1h-1zM1149 477h1v1h-1zM1150 467h1v1h-1zM1150 477h1v1h-1zM1151 466h1v2h-1zM1151 477h1v2h-1zM1151 490h1v1h-1zM1152 467h1v1h-1zM1152 477h1v1h-1zM1152 487h1v7h-1zM1153 467h1v1h-1zM1153 477h1v1h-1zM1153 486h1v2h-1zM1153 493h1v2h-1zM1154 467h1v2h-1zM1154 476h1v2h-1zM1154 485h1v2h-1zM1154 494h1v2h-1zM1155 468h1v2h-1zM1155 475h1v2h-1zM1155 485h1v1h-1zM1155 495h1v1h-1zM1156 469h1v7h-1zM1156 485h1v1h-1zM1156 495h1v1h-1zM1157 472h1v1h-1zM1157 484h1v2h-1zM1157 495h1v2h-1zM1158 485h1v1h-1zM1158 495h1v1h-1zM1159 485h1v1h-1zM1159 495h1v1h-1zM1160 485h1v2h-1zM1160 494h1v2h-1zM1161 486h1v2h-1zM1161 493h1v2h-1zM1162 487h1v7h-1zM1163 490h1v1h-1zM1197 482h1v1h-1zM1198 479h1v7h-1zM1199 478h1v2h-1zM1199 485h1v2h-1zM1200 477h1v2h-1zM1200 486h1v2h-1zM1201 477h1v1h-1zM1201 487h1v1h-1zM1202 477h1v1h-1zM1202 487h1v1h-1zM1203 476h1v2h-1zM1203 487h1v2h-1zM1204 477h1v1h-1zM1204 487h1v1h-1zM1204 490h1v1h-1zM1205 477h1v1h-1zM1205 487h1v7h-1zM1206 477h1v2h-1zM1206 486h1v2h-1zM1206 493h1v2h-1zM1207 478h1v2h-1zM1207 485h1v2h-1zM1207 494h1v2h-1zM1208 479h1v7h-1zM1208 495h1v1h-1zM1209 482h1v1h-1zM1209 485h1v1h-1zM1209 495h1v1h-1zM1210 484h1v2h-1zM1210 495h1v2h-1zM1211 485h1v1h-1zM1211 495h1v1h-1zM1212 485h1v1h-1zM1212 495h1v1h-1zM1213 485h1v2h-1zM1213 494h1v2h-1zM1214 486h1v2h-1zM1214 493h1v2h-1zM1215 487h1v7h-1zM1216 490h1v1h-1zM1250 481h1v1h-1zM1251 478h1v7h-1zM1252 477h1v2h-1zM1252 484h1v2h-1zM1253 476h1v2h-1zM1253 485h1v2h-1zM1254 476h1v1h-1zM1254 486h1v1h-1zM1255 476h1v1h-1zM1255 486h1v1h-1zM1256 475h1v2h-1zM1256 486h1v2h-1zM1256 491h1v1h-1zM1257 476h1v1h-1zM1257 486h1v1h-1zM1257 488h1v7h-1zM1258 476h1v1h-1zM1258 486h1v3h-1zM1258 494h1v2h-1zM1259 476h1v2h-1zM1259 485h1v3h-1zM1259 495h1v2h-1zM1260 477h1v2h-1zM1260 484h1v3h-1zM1260 496h1v1h-1zM1261 478h1v7h-1zM1261 486h1v1h-1zM1261 496h1v1h-1zM1262 481h1v1h-1zM1262 485h1v2h-1zM1262 496h1v2h-1zM1263 486h1v1h-1zM1263 496h1v1h-1zM1264 486h1v1h-1zM1264 496h1v1h-1zM1265 486h1v2h-1zM1265 495h1v2h-1zM1266 487h1v2h-1zM1266 494h1v2h-1zM1267 488h1v7h-1zM1268 491h1v1h-1zM1303 479h1v1h-1zM1304 476h1v7h-1zM1305 475h1v2h-1zM1305 482h1v2h-1zM1306 474h1v2h-1zM1306 483h1v2h-1zM1307 474h1v1h-1zM1307 484h1v1h-1zM1308 474h1v1h-1zM1308 484h1v1h-1zM1309 473h1v2h-1zM1309 484h1v2h-1zM1309 491h1v1h-1zM1310 474h1v1h-1zM1310 484h1v1h-1zM1310 488h1v7h-1zM1311 474h1v1h-1zM1311 484h1v1h-1zM1311 487h1v2h-1zM1311 494h1v2h-1zM1312 474h1v2h-1zM1312 483h1v2h-1zM1312 486h1v2h-1zM1312 495h1v2h-1zM1313 475h1v2h-1zM1313 482h1v2h-1zM1313 486h1v1h-1zM1313 496h1v1h-1zM1314 476h1v7h-1zM1314 486h1v1h-1zM1314 496h1v1h-1zM1315 479h1v1h-1zM1315 485h1v2h-1zM1315 496h1v2h-1zM1316 486h1v1h-1zM1316 496h1v1h-1zM1317 486h1v1h-1zM1317 496h1v1h-1zM1318 486h1v2h-1zM1318 495h1v2h-1zM1319 487h1v2h-1zM1319 494h1v2h-1zM1320 488h1v7h-1zM1321 491h1v1h-1zM1356 484h1v1h-1zM1357 481h1v7h-1zM1358 480h1v2h-1zM1358 487h1v2h-1zM1359 479h1v2h-1zM1359 488h1v2h-1zM1360 479h1v1h-1zM1360 489h1v1h-1zM1361 479h1v1h-1zM1361 489h1v1h-1zM1362 478h1v2h-1zM1362 489h1v2h-1zM1363 479h1v1h-1zM1363 489h1v1h-1zM1364 479h1v1h-1zM1364 489h1v1h-1zM1365 479h1v2h-1zM1365 488h1v2h-1zM1366 480h1v2h-1zM1366 487h1v2h-1zM1367 481h1v7h-1zM1368 484h1v1h-1z" fill="#c04000"/>
<path d="M97 539h1v1h-1zM98 536h1v7h-1zM99 535h1v9h-1zM100 534h1v11h-1zM101 534h1v11h-1zM102 534h1v11h-1zM103 533h1v13h-1zM104 534h1v11h-1zM105 534h1v11h-1zM106 534h1v11h-1zM107 535h1v9h-1zM108 536h1v7h-1zM109 539h1v1h-1zM143 539h1v1h-1zM144 536h1v7h-1zM145 535h1v9h-1zM146 534h1v11h-1zM147 534h1v11h-1zM148 534h1v11h-1zM149 533h1v13h-1zM150 534h1v11h-1zM151 534h1v11h-1zM152 534h1v11h-1zM153 535h1v9h-1zM154 536h1v7h-1zM155 539h1v1h-1zM202 539h1v1h-1zM203 536h1v7h-1zM204 535h1v9h-1zM205 534h1v11h-1zM206 534h1v11h-1zM207 534h1v11h-1zM208 533h1v13h-1zM209 534h1v11h-1zM210 534h1v11h-1zM211 534h1v11h-1zM212 535h1v9h-1zM213 536h1v7h-1zM214 539h1v1h-1zM249 539h1v1h-1zM250 536h1v7h-1zM251 535h1v9h-1zM252 534h1v11h-1zM253 534h1v11h-1zM254 534h1v11h-1zM255 533h1v13h-1zM256 534h1v11h-1zM257 534h1v11h-1zM258 534h1v11h-1zM259 534h1v11h-1zM260 534h1v11h-1zM261 533h1v13h-1zM262 534h1v11h-1zM263 534h1v11h-1zM264 534h1v11h-1zM265 535h1v9h-1zM266 536h1v7h-1zM267 539h1v1h-1zM301 539h1v1h-1zM302 536h1v7h-1zM303 535h1v9h-1zM304 534h1v11h-1zM305 534h1v11h-1zM306 534h1v11h-1zM307 533h1v13h-1zM308 534h1v11h-1zM309 534h1v11h-1zM310 534h1v11h-1zM311 534h1v11h-1zM312 534h1v11h-1zM313 534h1v11h-1zM314 533h1v13h-1zM315 534h1v11h-1zM316 534h1v11h-1zM317 534h1v11h-1zM318 535h1v9h-1zM319 536h1v7h-1zM320 539h1v1h-1zM354 539h1v1h-1zM355 536h1v7h-1zM356 535h1v9h-1zM357 534h1v11h-1zM358 534h1v11h-1zM359 534h1v11h-1zM360 533h1v13h-1zM361 534h1v11h-1zM362 534h1v11h-1zM363 534h1v11h-1zM364 534h1v11h-1zM365 534h1v11h-1zM366 533h1v13h-1zM367 534h1v11h-1zM368 534h1v11h-1zM369 534h1v11h-1zM370 535h1v9h-1zM371 536h1v7h-1zM372 539h1v1h-1zM407 539h1v1h-1zM408 536h1v7h-1zM409 535h1v9h-1zM410 534h1v11h-1zM411 534h1v11h-1zM412 534h1v11h-1zM413 533h1v13h-1zM414 534h1v11h-1zM415 534h1v11h-1zM416 534h1v11h-1zM417 534h1v11h-1zM418 534h1v11h-1zM419 533h1v13h-1zM420 534h1v11h-1zM421 534h1v11h-1zM422 534h1v11h-1zM423 535h1v9h-1zM424 536h1v7h-1zM425 539h1v1h-1zM460 539h1v1h-1zM461 536h1v7h-1zM462 535h1v9h-1zM463 534h1v11h-1zM464 534h1v11h-1zM465 534h1v11h-1zM466 533h1v13h-1zM467 534h1v11h-1zM468 534h1v11h-1zM469 534h1v11h-1zM470 534h1v11h-1zM471 534h1v11h-1zM472 533h1v13h-1zM473 534h1v11h-1zM474 534h1v11h-1zM475 534h1v11h-1zM476 535h1v9h-1zM477 536h1v7h-1zM478 539h1v1h-1zM512 539h1v1h-1zM513 536h1v7h-1zM514 535h1v9h-1zM515 534h1v11h-1zM516 534h1v11h-1zM517 534h1v11h-1zM518 533h1v13h-1zM519 534h1v11h-1zM520 534h1v11h-1zM521 534h1v11h-1zM522 534h1v11h-1zM523 534h1v11h-1zM524 533h1v13h-1zM525 534h1v11h-1zM526 534h1v11h-1zM527 534h1v11h-1zM528 535h1v9h-1zM529 536h1v7h-1zM530 539h1v1h-1zM565 539h1v1h-1zM566 536h1v7h-1zM567 535h1v9h-1zM568 534h1v11h-1zM569 534h1v11h-1zM570 534h1v11h-1zM571 533h1v13h-1zM572 534h1v11h-1zM573 534h1v11h-1zM574 534h1v11h-1zM575 534h1v11h-1zM576 534h1v11h-1zM577 533h1v13h-1zM578 534h1v11h-1zM579 534h1v11h-1zM580 534h1v11h-1zM581 535h1v9h-1zM582 536h1v7h-1zM583 539h1v1h-1zM618 539h1v1h-1zM619 536h1v7h-1zM620 535h1v9h-1zM621 534h1v11h-1zM622 534h1v11h-1zM623 534h1v11h-1zM624 533h1v13h-1zM625 534h1v11h-1zM626 534h1v11h-1zM627 534h1v11h-1zM628 534h1v11h-1zM629 534h1v11h-1zM630 533h1v13h-1zM631 534h1v11h-1zM632 534h1v11h-1zM633 534h1v11h-1zM634 535h1v9h-1zM635 536h1v7h-1zM636 539h1v1h-1zM670 539h1v1h-1zM671 536h1v7h-1zM672 535h1v9h-1zM673 534h1v11h-1zM674 534h1v11h-1zM675 534h1v11h-1zM676 533h1v13h-1zM677 534h1v11h-1zM678 534h1v11h-1zM679 534h1v11h-1zM680 534h1v11h-1zM681 534h1v11h-1zM682 534h1v11h-1zM683 533h1v13h-1zM684 534h1v11h-1zM685 534h1v11h-1zM686 534h1v11h-1zM687 535h1v9h-1zM688 536h1v7h-1zM689 539h1v1h-1zM723 539h1v1h-1zM724 536h1v7h-1zM725 535h1v9h-1zM726 534h1v11h-1zM727 534h1v11h-1zM728 534h1v11h-1zM729 533h1v13h-1zM730 534h1v11h-1zM731 534h1v11h-1zM732 534h1v11h-1zM733 534h1v11h-1zM734 534h1v11h-1zM735 533h1v13h-1zM736 534h1v11h-1zM737 534h1v11h-1zM738 534h1v11h-1zM739 535h1v9h-1zM740 536h1v7h-1zM741 539h1v1h-1zM776 539h1v1h-1zM777 536h1v7h-1zM778 535h1v9h-1zM779 534h1v11h-1zM780 534h1v11h-1zM781 534h1v11h-1zM782 533h1v13h-1zM783 534h1v11h-1zM784 534h1v11h-1zM785 534h1v11h-1zM786 534h1v11h-1zM787 534h1v11h-1zM788 533h1v13h-1zM789 534h1v11h-1zM790 534h1v11h-1zM791 534h1v11h-1zM792 535h1v9h-1zM793 536h1v7h-1zM794 539h1v1h-1zM829 539h1v1h-1zM830 536h1v7h-1zM831 535h1v9h-1zM832 534h1v11h-1zM833 534h1v11h-1zM834 534h1v11h-1zM835 533h1v13h-1zM836 534h1v11h-1zM837 534h1v11h-1zM838 534h1v11h-1zM839 534h1v11h-1zM840 534h1v11h-1zM841 533h1v13h-1zM842 534h1v11h-1zM843 534h1v11h-1zM844 534h1v11h-1zM845 535h1v9h-1zM846 536h1v7h-1zM847 539h1v1h-1zM881 539h1v1h-1zM882 536h1v7h-1zM883 535h1v9h-1zM884 534h1v11h-1zM885 534h1v11h-1zM886 534h1v11h-1zM887 533h1v13h-1zM888 534h1v11h-1zM889 534h1v11h-1zM890 534h1v11h-1zM891 534h1v11h-1zM892 534h1v11h-1zM893 533h1v13h-1zM894 534h1v11h-1zM895 534h1v11h-1zM896 534h1v11h-1zM897 535h1v9h-1zM898 536h1v7h-1zM899 539h1v1h-1zM934 539h1v1h-1zM935 536h1v7h-1zM936 535h1v9h-1zM937 534h1v11h-1zM938 534h1v11h-1zM939 534h1v11h-1zM940 533h1v13h-1zM941 534h1v11h-1zM942 534h1v11h-1zM943 534h1v11h-1zM944 534h1v11h-1zM945 534h1v11h-1zM946 533h1v13h-1zM947 534h1v11h-1zM948 534h1v11h-1zM949 534h1v11h-1zM950 535h1v9h-1zM951 536h1v7h-1zM952 539h1v1h-1zM987 539h1v1h-1zM988 536h1v7h-1zM989 535h1v9h-1zM990 534h1v11h-1zM991 534h1v11h-1zM992 534h1v11h-1zM993 533h1v13h-1zM994 534h1v11h-1zM995 534h1v11h-1zM996 534h1v11h-1zM997 534h1v11h-1zM998 534h1v11h-1zM999 533h1v13h-1zM1000 534h1v11h-1zM1001 534h1v11h-1zM1002 534h1v11h-1zM1003 535h1v9h-1zM1004 536h1v7h-1zM1005 539h1v1h-1zM1039 539h1v1h-1zM1040 536h1v7h-1zM1041 535h1v9h-1zM1042 534h1v11h-1zM1043 534h1v11h-1zM1044 534h1v11h-1zM1045 533h1v13h-1zM1046 534h1v11h-1zM1047 534h1v11h-1zM1048 534h1v11h-1zM1049 534h1v11h-1zM1050 534h1v11h-1zM1051 534h1v11h-1zM1052 533h1v13h-1zM1053 534h1v11h-1zM1054 534h1v11h-1zM1055 534h1v11h-1zM1056 535h1v9h-1zM1057 536h1v7h-1zM1058 539h1v1h-1zM1092 539h1v1h-1zM1093 536h1v7h-1zM1094 535h1v9h-1zM1095 534h1v11h-1zM1096 534h1v11h-1zM1097 534h1v11h-1zM1098 533h1v13h-1zM1099 534h1v11h-1zM1100 534h1v11h-1zM1101 534h1v11h-1zM1102 534h1v11h-1zM1103 534h1v11h-1zM1104 533h1v13h-1zM1105 534h1v11h-1zM1106 534h1v11h-1zM1107 534h1v11h-1zM1108 535h1v9h-1zM1109 536h1v7h-1zM1110 539h1v1h-1zM1145 539h1v1h-1zM1146 536h1v7h-1zM1147 535h1v9h-1zM1148 534h1v11h-1zM1149 534h1v11h-1zM1150 534h1v11h-1zM1151 533h1v13h-1zM1152 534h1v11h-1zM1153 534h1v11h-1zM1154 534h1v11h-1zM1155 534h1v11h-1zM1156 534h1v11h-1zM1157 533h1v13h-1zM1158 534h1v11h-1zM1159 534h1v11h-1zM1160 534h1v11h-1zM1161 535h1v9h-1zM1162 536h1v7h-1zM1163 539h1v1h-1zM1197 539h1v1h-1zM1198 536h1v7h-1zM1199 535h1v9h-1zM1200 534h1v11h-1zM1201 534h1v11h-1zM1202 534h1v11h-1zM1203 533h1v13h-1zM1204 534h1v11h-1zM1205 534h1v11h-1zM1206 534h1v11h-1zM1207 534h1v11h-1zM1208 534h1v11h-1zM1209 534h1v11h-1zM1210 533h1v13h-1zM1211 534h1v11h-1zM1212 534h1v11h-1zM1213 534h1v11h-1zM1214 535h1v9h-1zM1215 536h1v7h-1zM1216 539h1v1h-1zM1250 539h1v1h-1zM1251 536h1v7h-1zM1252 535h1v9h-1zM1253 534h1v11h-1zM1254 534h1v11h-1zM1255 534h1v11h-1zM1256 533h1v13h-1zM1257 534h1v11h-1zM1258 534h1v11h-1zM1259 534h1v11h-1zM1260 534h1v11h-1zM1261 534h1v11h-1zM1262 533h1v13h-1zM1263 534h1v11h-1zM1264 534h1v11h-1zM1265 534h1v11h-1zM1266 535h1v9h-1zM1267 536h1v7h-1zM1268 539h1v1h-1zM1303 539h1v1h-1zM1304 536h1v7h-1zM1305 535h1v9h-1zM1306 534h1v11h-1zM1307 534h1v11h-1zM1308 534h1v11h-1zM1309 533h1v13h-1zM1310 534h1v11h-1zM1311 534h1v11h-1zM1312 534h1v11h-1zM1313 534h1v11h-1zM1314 534h1v11h-1zM1315 533h1v13h-1zM1316 534h1v11h-1zM1317 534h1v11h-1zM1318 534h1v11h-1zM1319 535h1v9h-1zM1320 536h1v7h-1zM1321 539h1v1h-1zM1356 539h1v1h-1zM1357 536h1v7h-1zM1358 535h1v9h-1zM1359 534h1v11h-1zM1360 534h1v11h-1zM1361 534h1v11h-1zM1362 533h1v13h-1zM1363 534h1v11h-1zM1364 534h1v11h-1zM1365 534h1v11h-1zM1366 535h1v9h-1zM1367 536h1v7h-1zM1368 539h1v1h-1z" fill="#c8c800"/>
<path d="M101 57h1266v1h-1266zM101 539h1266v1h-1266zM101 57h1v483h-1zM1366 57h1v483h-1zM102 69h6v1h-6zM1360 69h6v1h-6zM102 186h6v1h-6zM1360 186h6v1h-6zM102 304h6v1h-6zM1360 304h6v1h-6zM102 421h6v1h-6zM1360 421h6v1h-6zM101 58h1v6h-1zM153 58h1v3h-1zM206 58h1v6h-1zM259 58h1v3h-1zM311 58h1v6h-1zM364 58h1v3h-1zM417 58h1v6h-1zM469 58h1v3h-1zM522 58h1v6h-1zM575 58h1v3h-1zM628 58h1v6h-1zM680 58h1v3h-1zM733 58h1v6h-1zM786 58h1v3h-1zM838 58h1v6h-1zM891 58h1v3h-1zM944 58h1v6h-1zM997 58h1v3h-1zM1049 58h1v6h-1zM1102 58h1v3h-1zM1155 58h1v6h-1zM1207 58h1v3h-1zM1260 58h1v6h-1zM1313 58h1v3h-1zM1366 58h1v6h-1z" fill="#000"/>
</svg>
</body></html>
